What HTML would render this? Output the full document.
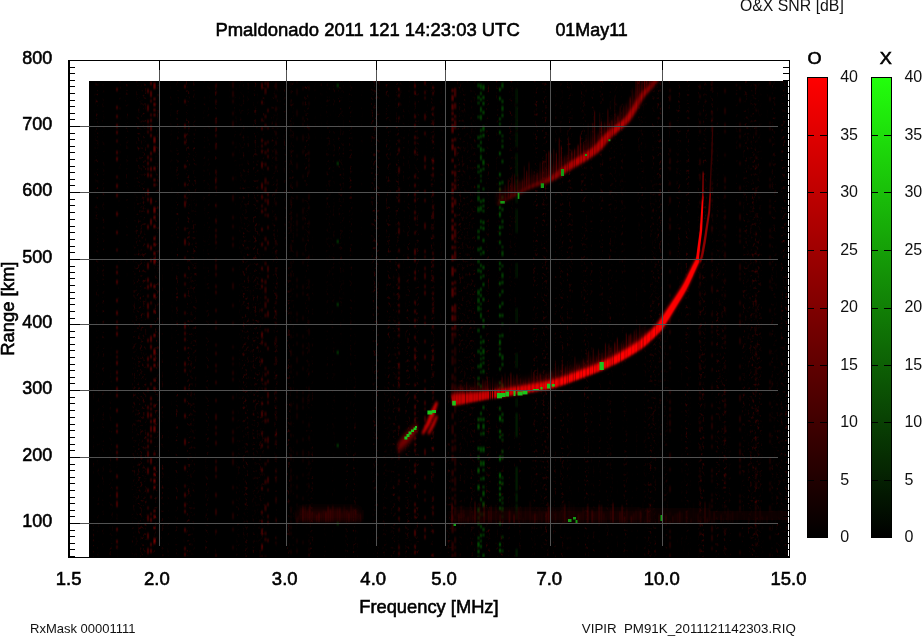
<!DOCTYPE html>
<html lang="en"><head><meta charset="utf-8"><title>Ionogram PM91K 2011121142303</title>
<style>html,body{margin:0;padding:0;background:#fff;overflow:hidden}svg{display:block;font-family:"Liberation Sans",Arial,Helvetica,sans-serif}.b{font-size:19px;fill:#000;stroke:#000;stroke-width:.6px}.t{font-size:16px;fill:#111}.s{font-size:13px;fill:#111}</style></head><body>
<svg width="922" height="636" viewBox="0 0 922 636">
<defs>
<linearGradient id="gO" x1="0" y1="0" x2="0" y2="1"><stop offset="0" stop-color="#ff0000"/><stop offset="1" stop-color="#000000"/></linearGradient>
<linearGradient id="gX" x1="0" y1="0" x2="0" y2="1"><stop offset="0" stop-color="#22ff0c"/><stop offset="1" stop-color="#000000"/></linearGradient>
<filter id="bl0" x="-100%" y="-10%" width="300%" height="120%"><feGaussianBlur stdDeviation="0.5 0.9"/></filter>
<filter id="bl1" x="-20%" y="-20%" width="140%" height="140%"><feGaussianBlur stdDeviation="0.8 1.6"/></filter>
<filter id="bl2" x="-20%" y="-20%" width="140%" height="140%"><feGaussianBlur stdDeviation="1.2 3"/></filter>
<filter id="bl5" x="0" y="0" width="100%" height="100%" filterUnits="userSpaceOnUse"><feGaussianBlur stdDeviation="0.6 0.8"/></filter>
<filter id="bl4" x="-20%" y="-100%" width="140%" height="300%"><feGaussianBlur stdDeviation="3 4"/></filter>
<filter id="bl3" x="-20%" y="-50%" width="140%" height="200%"><feGaussianBlur stdDeviation="2 3"/></filter>
<clipPath id="cp"><rect x="89" y="81" width="699" height="476"/></clipPath>
</defs>
<rect x="0" y="0" width="922" height="636" fill="#fff"/>
<rect x="89" y="81" width="699" height="476" fill="#000"/>
<g clip-path="url(#cp)">
<filter id="nz" x="0" y="0" width="100%" height="100%" color-interpolation-filters="sRGB"><feTurbulence type="fractalNoise" baseFrequency="0.42 0.30" numOctaves="2" seed="5" result="a"/><feColorMatrix in="a" type="matrix" values="0 0 0 0 0.2  0 0 0 0 0  0 0 0 0 0  3.5 0 0 0 -1.9" result="sp"/><feTurbulence type="fractalNoise" baseFrequency="0.21 0.0015" numOctaves="2" seed="11" result="b"/><feColorMatrix in="b" type="matrix" values="0 0 0 0 0  0 0 0 0 0  0 0 0 0 0  0 5 0 0 -2.45" result="col"/><feComposite in="sp" in2="col" operator="in"/><feGaussianBlur stdDeviation="0.5 0.7"/></filter>
<rect x="89" y="81" width="699" height="476" filter="url(#nz)"/>
<g filter="url(#bl5)">
<line x1="117" y1="88" x2="117" y2="557" stroke="#c00000" stroke-width="2.3" stroke-opacity="0.31" stroke-dasharray="3 15 3 6 3 6 4 3 3 6 2 9 3 3 4 15 2 6 4 6 3 15 4 15 3 15 2 15 2 3 3 6 4 15 3 9 4 6 2 3 3 3 4 15 2 3 2 3 4 6 3 3 4 6 4 3 3 12 3 12 3 3 3 12 3 3 3 3 3 15 3 9 2 3 6 3 6 21 3 9 3 3 2 15 4 6"/>
<line x1="148" y1="89" x2="148" y2="557" stroke="#c00000" stroke-width="2.3" stroke-opacity="0.31" stroke-dasharray="4 12 6 9 3 3 2 3 2 12 2 9 3 3 3 3 2 3 4 12 6 3 3 9 3 12 4 15 4 15 6 9 4 3 4 6 2 6 6 3 6 21 3 15 4 3 3 21 3 15 3 3 6 15 3 3 3 3 3 3 6 3 2 6 6 15 3 15 2 6 6 12 6 9 6 21"/>
<line x1="151" y1="82" x2="151" y2="557" stroke="#c00000" stroke-width="2.3" stroke-opacity="0.34" stroke-dasharray="3 6 6 3 2 12 2 3 3 3 6 3 3 15 3 3 3 6 4 3 3 21 6 15 6 21 4 9 3 21 4 15 2 21 2 9 6 3 4 6 3 9 4 12 2 12 3 3 2 3 2 3 4 3 3 3 6 3 2 3 3 15 6 15 2 15 2 15 2 3 4 21 3 3 4 15"/>
<line x1="154.5" y1="83" x2="154.5" y2="557" stroke="#c00000" stroke-width="2.3" stroke-opacity="0.50" stroke-dasharray="6 9 2 3 3 3 2 3 2 21 6 3 6 15 3 9 2 3 2 21 6 3 3 6 3 9 3 3 3 6 3 3 6 21 3 6 4 12 3 21 3 12 6 3 3 3 3 12 2 6 3 15 2 12 4 3 6 21 2 12 3 3 3 3 4 3 3 21 2 3 3 9 2 9 6 21"/>
<line x1="185" y1="85" x2="185" y2="557" stroke="#c00000" stroke-width="2.3" stroke-opacity="0.31" stroke-dasharray="3 12 3 21 4 6 4 3 3 21 3 15 3 9 3 3 6 21 2 9 6 12 2 15 3 6 2 9 3 15 2 9 6 3 3 3 3 6 3 12 4 3 3 15 3 9 3 12 4 21 6 21 4 15 2 6 4 6 4 3 3 15 4 15 3 3 3 9"/>
<line x1="216" y1="84" x2="216" y2="557" stroke="#c00000" stroke-width="2.3" stroke-opacity="0.19" stroke-dasharray="4 3 3 6 3 15 6 3 4 3 3 6 6 21 4 3 6 3 3 15 3 12 4 6 3 3 3 3 3 15 2 3 6 3 3 9 3 3 3 15 3 9 3 3 2 15 2 6 3 9 3 3 2 9 3 15 3 12 6 6 3 3 3 6 4 15 3 3 6 3 3 15 4 12 6 15 3 21 3 15"/>
<line x1="233" y1="82" x2="233" y2="557" stroke="#c00000" stroke-width="2.3" stroke-opacity="0.14" stroke-dasharray="6 3 6 3 3 9 3 6 6 15 2 9 3 21 3 15 6 15 3 6 3 9 3 3 4 21 3 12 6 15 3 15 3 21 2 9 3 3 2 6 4 3 3 15 3 12 3 3 4 9 4 3 6 9 4 3 6 21 3 12 3 9 6 9 3 15 3 9 4 21"/>
<line x1="262" y1="83" x2="262" y2="557" stroke="#c00000" stroke-width="2.3" stroke-opacity="0.31" stroke-dasharray="6 12 3 15 2 6 3 9 3 3 2 3 3 9 6 15 6 6 4 6 2 3 3 15 3 12 3 21 3 9 3 3 3 21 2 21 6 3 3 15 4 15 3 21 3 6 6 15 3 9 3 21 4 15 3 21 3 6 3 6 6 9 6 6 3 15"/>
<line x1="265.5" y1="82" x2="265.5" y2="557" stroke="#c00000" stroke-width="2.3" stroke-opacity="0.25" stroke-dasharray="3 3 6 21 3 6 3 15 3 6 3 9 3 12 6 3 6 6 3 6 3 3 2 21 4 6 3 12 3 15 4 3 6 3 3 3 6 6 3 12 2 12 3 21 3 3 3 6 3 3 3 21 4 3 4 15 4 21 2 15 4 21 6 21 3 3 3 15 3 12"/>
<line x1="268" y1="82" x2="268" y2="557" stroke="#c00000" stroke-width="2.3" stroke-opacity="0.25" stroke-dasharray="6 21 3 15 2 12 2 6 3 3 3 9 3 12 2 9 3 3 6 9 3 9 3 12 4 21 6 3 3 21 3 9 6 12 3 15 3 21 3 6 3 9 6 3 3 15 3 15 6 3 2 12 2 15 6 6 2 12 3 9 3 3 3 15 3 15 3 6"/>
<line x1="276" y1="83" x2="276" y2="557" stroke="#c00000" stroke-width="2.3" stroke-opacity="0.14" stroke-dasharray="6 6 3 9 4 12 3 6 3 6 3 6 4 3 3 6 3 21 3 9 3 12 3 21 4 6 3 15 3 21 2 6 3 6 6 6 3 12 6 3 2 9 6 12 3 12 4 3 3 6 2 3 2 3 3 12 6 3 4 12 4 9 4 3 6 15 6 15 4 15 2 3 2 15 6 9"/>
<line x1="291" y1="83" x2="291" y2="557" stroke="#c00000" stroke-width="2.3" stroke-opacity="0.09" stroke-dasharray="2 15 3 21 2 9 2 15 2 6 3 21 3 12 6 6 3 3 3 3 3 3 3 12 6 12 2 9 4 12 2 21 2 21 3 12 6 9 3 3 2 15 3 12 4 15 3 9 3 12 2 3 6 9 3 3 6 3 3 3 2 15 6 3 2 3 2 3 3 3 3 15 4 3 3 15"/>
<line x1="297" y1="81" x2="297" y2="557" stroke="#c00000" stroke-width="2.3" stroke-opacity="0.09" stroke-dasharray="2 6 6 15 6 21 3 15 2 6 6 12 6 9 3 15 3 3 6 3 2 3 2 15 6 21 4 3 3 6 3 15 4 3 3 12 2 6 3 12 6 9 3 15 3 3 2 6 6 3 6 21 3 9 3 21 3 6 4 6 3 6 2 12 6 15 4 6 4 15"/>
<line x1="303" y1="87" x2="303" y2="557" stroke="#c00000" stroke-width="2.3" stroke-opacity="0.09" stroke-dasharray="3 12 3 12 3 3 3 9 6 9 4 21 3 21 3 6 6 3 3 6 3 9 3 12 2 6 3 21 4 3 3 21 4 15 3 6 4 3 4 12 3 21 3 3 6 3 3 12 2 15 3 9 6 3 3 12 2 21 3 9 4 3 4 21 3 21 2 3"/>
<line x1="309" y1="86" x2="309" y2="557" stroke="#c00000" stroke-width="2.3" stroke-opacity="0.09" stroke-dasharray="4 12 3 21 4 6 3 12 4 3 3 3 3 3 3 21 6 6 3 12 4 6 3 21 4 21 3 3 2 9 3 21 2 6 6 9 2 3 3 12 2 6 3 12 4 3 2 3 3 21 4 9 4 12 3 6 3 9 2 9 4 21 4 3 3 21 2 6 3 3 3 3 2 3 2 12"/>
<line x1="337.7" y1="84" x2="337.7" y2="557" stroke="#00a000" stroke-width="2.3" stroke-opacity="0.31" stroke-dasharray="3 75 3 75 3 60 3 45 3 90 3 75 3 45"/>
<line x1="399" y1="88" x2="399" y2="557" stroke="#c00000" stroke-width="2.3" stroke-opacity="0.25" stroke-dasharray="3 3 3 6 2 12 2 21 2 6 4 15 6 15 3 3 2 3 3 21 2 3 6 15 3 12 4 9 6 3 3 6 3 6 3 3 3 9 3 3 3 3 3 15 2 9 6 3 2 3 3 3 4 21 3 15 3 21 3 3 3 21 2 15 2 9 3 6 3 9 2 15 3 3 3 3 6 3 3 15"/>
<line x1="415" y1="84" x2="415" y2="557" stroke="#c00000" stroke-width="2.3" stroke-opacity="0.31" stroke-dasharray="4 3 3 21 3 6 3 9 3 3 2 6 4 21 3 6 3 6 3 3 3 9 3 3 3 12 2 15 6 3 4 9 3 3 3 21 3 6 3 6 3 3 2 9 3 9 3 3 6 6 3 15 2 9 4 6 4 3 3 3 4 6 3 6 3 3 3 3 3 12 3 3 3 12 3 15 3 3 4 3 2 12 6 9 3 3 3 3 4 15"/>
<line x1="425" y1="81" x2="425" y2="557" stroke="#c00000" stroke-width="2.3" stroke-opacity="0.25" stroke-dasharray="4 6 3 3 2 15 6 12 3 21 6 3 4 21 3 6 3 21 6 21 3 3 2 9 3 3 6 6 3 3 4 21 3 3 3 15 3 12 4 21 2 6 4 9 4 3 2 6 6 3 3 21 6 21 3 12 2 6 2 15 3 9 4 3 4 21 4 3"/>
<line x1="433" y1="86" x2="433" y2="557" stroke="#c00000" stroke-width="2.3" stroke-opacity="0.25" stroke-dasharray="3 3 3 12 3 3 2 6 3 12 2 3 2 15 6 3 3 3 4 15 4 9 4 3 6 9 2 6 2 15 3 3 3 3 3 9 4 12 3 3 2 3 3 3 4 12 3 21 3 3 6 12 3 15 3 3 2 15 3 15 3 12 4 12 2 9 2 21 3 6 3 3 3 15 3 21 4 21"/>
<line x1="452.6" y1="89" x2="452.6" y2="335" stroke="#c00000" stroke-width="2.3" stroke-opacity="0.46" stroke-dasharray="3 3 6 3 6 2 3 3 3 3 9 6 3 2 6 9 3 9 3 9 3 2 6 3 3 2 6 2 3 6 3 3 6 3 6 6 3 6 6 6 9 6 3 3 9 9 6 3 6 6 3 3 3 9 6 6 9 6 3 3 6 3 6 9 6 3 3 6 3 6 3 6 3 6 6 3 9 9 9 3 9 6 6 3 9 9 6 3 6 3 3 2 9 3 9 9"/>
<line x1="452.6" y1="335" x2="452.6" y2="557" stroke="#c00000" stroke-width="2.3" stroke-opacity="0.22" stroke-dasharray="9 6 3 3 9 9 6 3 6 6 3 3 3 9 6 6 9 6 3 3 6 3 6 9 6 3 3 6 3 6 3 6 3 6 6 3 9 9 9 3 9 6 6 3 9 9 6 3 6 3 3 2 9 3 9 9"/>
<line x1="455.2" y1="88" x2="455.2" y2="335" stroke="#c00000" stroke-width="2.3" stroke-opacity="0.34" stroke-dasharray="9 6 6 6 3 2 9 9 3 6 9 9 3 3 6 2 3 2 6 9 6 9 3 6 3 3 9 2 3 3 3 2 9 9 3 9 3 3 3 2 3 9 9 2 6 3 6 3 6 2 6 3 9 2 9 9 3 9 3 2 3 3 6 6 9 2 3 6 9 2 3 3 3 2 6 2 9 3 3 6 3 6 6 3 3 3 6 3 3 3 3 9 3 3 3 6 3 3 3 3 6 9"/>
<line x1="455.2" y1="335" x2="455.2" y2="557" stroke="#c00000" stroke-width="2.3" stroke-opacity="0.17" stroke-dasharray="3 9 9 2 6 3 6 3 6 2 6 3 9 2 9 9 3 9 3 2 3 3 6 6 9 2 3 6 9 2 3 3 3 2 6 2 9 3 3 6 3 6 6 3 3 3 6 3 3 3 3 9 3 3 3 6 3 3 3 3 6 9"/>
<line x1="478.5" y1="84" x2="478.5" y2="557" stroke="#00a000" stroke-width="2.3" stroke-opacity="0.46" stroke-dasharray="3 9 3 3 2 12 2 18 3 6 2 18 3 3 2 12 3 3 2 3 5 6 5 18 3 3 3 9 3 9 3 6 3 18 5 3 5 3 5 18 3 18 3 12 3 9 3 3 2 12 3 18 3 3 5 18 3 6 3 9 5 12 5 18 5 3 3 3 3 12 2 3 5 3 3 3 5 3"/>
<line x1="481" y1="84" x2="481" y2="557" stroke="#00a000" stroke-width="2.3" stroke-opacity="0.37" stroke-dasharray="5 3 3 3 3 6 5 3 5 9 3 3 3 3 3 3 5 3 5 9 3 3 2 3 2 18 3 3 5 9 3 3 3 18 3 3 2 9 3 3 3 3 3 9 3 3 3 6 2 3 2 3 5 18 2 3 3 3 2 3 3 3 2 3 5 3 2 12 3 3 3 18 3 3 3 12 2 12 5 9 5 12 2 18 3 12 3 9 3 6 3 3 2 3 3 12 3 12"/>
<line x1="483.5" y1="85" x2="483.5" y2="557" stroke="#00a000" stroke-width="2.3" stroke-opacity="0.43" stroke-dasharray="5 6 3 3 3 6 3 12 5 3 3 12 2 9 5 3 2 18 2 9 3 3 2 3 2 9 3 3 3 9 3 9 3 12 3 6 2 6 3 12 3 18 3 3 3 12 3 6 5 3 2 3 2 6 3 18 3 12 3 9 3 3 5 3 3 12 5 9 5 3 2 6 3 6 2 3 5 6 5 6 3 12 3 3 2 18 3 9"/>
<line x1="500" y1="88" x2="500" y2="557" stroke="#00a000" stroke-width="2.3" stroke-opacity="0.50" stroke-dasharray="3 6 3 18 2 3 2 6 3 18 3 18 3 6 3 3 3 9 3 3 3 3 5 9 3 3 3 6 3 18 3 3 2 12 3 9 2 9 3 6 3 18 2 3 5 3 2 3 3 12 2 12 2 3 2 18 3 6 5 9 3 3 2 18 5 12 5 3 3 3 3 3 3 3 2 6 3 12 3 18 3 3 3 18"/>
<line x1="502.5" y1="83" x2="502.5" y2="557" stroke="#00a000" stroke-width="2.3" stroke-opacity="0.37" stroke-dasharray="5 12 3 3 5 3 3 18 2 3 2 3 3 12 3 18 3 12 3 9 3 9 3 3 2 18 2 3 5 9 2 6 5 3 3 6 3 9 3 9 3 6 2 9 3 18 5 3 3 18 5 3 3 18 3 3 3 12 2 3 2 9 3 3 3 18 2 3 3 12 2 3 2 3 5 3 3 18 2 12 2 6 2 6"/>
<line x1="516.6" y1="89" x2="516.6" y2="557" stroke="#006000" stroke-width="2.3" stroke-opacity="0.28" stroke-dasharray="15 2 24 2 15 6 24 2 24 6 24 30 15 30 15 30 15 30 9 6 24 30 24 2 9 2 15 30 15 2 24 6"/>
<line x1="670" y1="89" x2="670" y2="557" stroke="#c00000" stroke-width="2.3" stroke-opacity="0.14" stroke-dasharray="3 3 6 21 6 21 3 6 6 3 3 12 3 12 6 15 3 3 6 21 4 15 3 12 3 6 3 21 6 6 4 12 3 12 3 3 2 21 4 6 4 3 4 3 3 3 6 3 3 21 6 9 3 15 6 21 2 6 3 6 3 3 3 3 6 6 3 3 3 6"/>
<line x1="700" y1="85" x2="700" y2="557" stroke="#c00000" stroke-width="2.3" stroke-opacity="0.14" stroke-dasharray="4 6 3 15 2 6 3 6 3 15 2 9 6 9 6 21 3 21 4 3 2 15 3 6 3 12 6 3 4 6 4 6 3 6 2 12 3 3 4 6 2 12 3 6 6 12 3 6 3 3 3 21 3 3 4 15 3 21 2 3 3 9 3 12 3 3 6 9 3 6 2 15 3 9 3 15"/>
<line x1="712" y1="81" x2="712" y2="557" stroke="#c00000" stroke-width="2.3" stroke-opacity="0.15" stroke-dasharray="3 3 3 21 4 3 4 3 6 12 3 3 6 3 3 21 2 3 3 9 3 12 3 9 6 21 2 3 4 12 3 9 6 21 3 9 3 3 2 9 3 9 3 12 2 15 3 15 3 9 4 3 6 6 4 6 3 21 3 3 2 3 2 12 2 3 3 3 3 12 3 3 6 3 6 6 3 21"/>
<line x1="725" y1="89" x2="725" y2="557" stroke="#c00000" stroke-width="2.3" stroke-opacity="0.14" stroke-dasharray="4 15 6 9 4 3 3 21 2 21 6 3 3 6 3 12 2 3 4 6 4 6 2 6 3 6 6 21 3 12 3 12 3 15 2 6 3 3 3 21 3 21 4 6 3 3 3 3 3 12 6 6 3 15 3 15 4 3 3 21 3 3 3 15 4 15 2 15 3 3"/>
<line x1="740" y1="87" x2="740" y2="557" stroke="#c00000" stroke-width="2.3" stroke-opacity="0.15" stroke-dasharray="2 9 4 21 3 3 3 3 3 6 3 15 3 21 4 12 3 9 6 9 3 3 2 3 3 21 6 3 2 3 2 21 4 9 3 3 6 12 6 21 3 9 3 15 6 15 6 6 3 12 3 3 6 3 4 3 3 3 3 21 2 3 3 3 6 21 3 15 3 15"/>
<line x1="756" y1="85" x2="756" y2="557" stroke="#c00000" stroke-width="2.3" stroke-opacity="0.12" stroke-dasharray="3 21 2 15 3 3 3 21 3 6 3 21 4 21 3 15 4 15 3 6 3 6 4 21 3 3 6 3 3 3 3 9 3 15 3 3 6 12 6 3 3 9 3 15 3 9 3 15 3 3 2 21 3 3 6 3 6 12 4 3 3 9 3 3 3 3 3 9 3 21"/>
<line x1="770" y1="81" x2="770" y2="557" stroke="#c00000" stroke-width="2.3" stroke-opacity="0.12" stroke-dasharray="4 12 4 21 2 3 3 9 3 21 3 12 3 3 4 12 2 3 3 3 3 15 3 3 3 6 3 9 3 3 3 15 3 3 2 21 3 21 2 15 4 9 2 15 4 3 3 12 3 9 2 3 2 12 4 3 3 15 6 3 3 12 3 3 3 15 6 15 3 6 3 15 2 6"/>
</g>
<polygon points="452.8,402.6 453.3,402.5 453.8,402.6 454.6,402.6 455.6,402.5 457.0,402.4 458.9,402.1 461.4,401.6 464.4,401.0 467.8,400.3 471.4,399.6 475.0,398.9 478.4,398.2 481.7,397.7 484.9,397.1 488.2,396.6 491.4,396.0 494.6,395.5 497.9,395.0 501.2,394.5 504.5,393.9 507.8,393.4 511.1,392.9 514.4,392.4 517.7,391.9 520.9,391.3 524.1,390.8 527.3,390.3 530.6,389.8 533.8,389.2 537.1,388.6 540.3,388.0 543.5,387.4 546.8,386.8 550.1,386.2 553.7,385.3 557.4,384.4 561.3,383.2 565.3,381.8 569.4,380.4 573.5,378.9 577.4,377.4 581.1,376.0 584.6,374.7 587.9,373.5 591.2,372.3 594.4,371.0 597.7,369.7 601.0,368.3 604.3,366.9 607.6,365.4 610.9,363.9 614.2,362.4 617.5,360.8 620.9,359.0 624.4,357.1 628.0,355.1 631.6,353.0 635.0,350.9 638.2,348.9 641.0,347.1 643.3,345.5 645.2,344.1 646.8,342.8 648.2,341.5 649.5,340.3 651.0,339.0 652.7,337.4 644.7,328.5 643.0,330.0 641.5,331.3 640.2,332.5 639.0,333.4 637.7,334.4 636.2,335.5 634.2,336.9 631.6,338.5 628.6,340.4 625.3,342.4 621.8,344.4 618.4,346.4 615.1,348.2 612.0,349.8 608.8,351.4 605.7,353.0 602.6,354.4 599.4,355.9 596.2,357.3 593.1,358.6 590.0,359.9 586.9,361.1 583.7,362.3 580.4,363.5 576.9,364.8 573.2,366.2 569.3,367.6 565.3,369.1 561.4,370.5 557.6,371.7 554.0,372.8 550.7,373.7 547.6,374.5 544.4,375.2 541.3,375.8 538.1,376.4 534.9,377.0 531.7,377.6 528.5,378.2 525.4,378.8 522.2,379.4 519.0,380.0 515.7,380.5 512.5,381.1 509.2,381.7 505.9,382.2 502.7,382.8 499.4,383.3 496.1,383.8 492.9,384.3 489.6,384.8 486.4,385.3 483.2,385.8 480.0,386.2 476.8,386.6 473.4,386.8 469.8,387.1 466.1,387.2 462.7,387.4 459.6,387.5 457.1,387.7 455.3,387.9 453.9,388.1 453.0,388.2 452.3,388.4 451.7,388.5 451.2,388.6" fill="#700000" opacity=".4" filter="url(#bl2)"/>
<polygon points="498.3,201.9 498.7,201.8 499.1,201.7 499.9,201.5 501.1,201.0 502.7,200.3 505.1,199.2 508.6,197.5 512.9,195.2 517.8,192.7 522.8,190.2 527.6,187.8 531.8,185.9 535.4,184.5 538.6,183.5 541.9,182.6 545.2,181.6 548.7,180.4 552.4,178.8 556.1,176.8 559.9,174.6 563.6,172.2 567.1,169.9 570.4,167.8 573.3,166.0 575.8,164.6 578.1,163.3 580.2,162.1 582.3,161.0 584.6,159.7 586.8,158.3 589.2,156.8 591.5,155.3 594.0,153.7 596.4,152.0 598.8,150.1 601.2,148.1 603.5,145.9 605.5,143.5 607.3,141.2 609.0,139.1 610.5,137.2 611.8,135.7 613.1,134.3 614.4,133.1 615.7,132.0 617.0,130.9 618.5,129.6 620.0,128.3 621.5,127.0 623.2,125.6 624.9,124.2 626.7,122.6 628.5,121.0 630.2,119.3 631.7,117.5 633.0,115.8 634.1,114.1 635.2,112.4 636.2,110.8 637.2,109.1 638.4,107.3 639.5,105.2 640.6,103.2 641.7,101.3 642.7,99.5 643.7,97.9 644.5,96.6 645.2,95.4 645.8,94.4 646.4,93.6 647.0,92.8 647.6,91.9 648.4,91.0 649.4,90.0 650.5,88.8 651.6,87.7 652.8,86.5 653.8,85.4 654.7,84.4 655.5,83.4 656.3,82.5 657.0,81.6 657.7,80.6 658.4,79.7 659.1,78.6 659.8,77.6 660.5,76.5 661.1,75.6 661.5,74.9 661.8,74.4 654.2,69.6 653.8,70.2 653.4,71.0 652.9,71.8 652.3,72.7 651.7,73.6 651.2,74.3 650.6,75.0 650.0,75.7 649.3,76.4 648.6,77.2 647.8,78.0 647.0,78.8 646.0,79.7 644.9,80.7 643.7,81.8 642.4,82.9 641.2,84.2 640.0,85.5 639.0,86.7 638.1,87.9 637.4,89.0 636.7,90.2 636.0,91.3 635.1,92.7 634.1,94.3 633.0,96.1 631.8,98.1 630.7,100.0 629.5,101.8 628.4,103.5 627.3,105.1 626.3,106.6 625.3,108.0 624.3,109.3 623.3,110.5 622.2,111.7 620.9,112.9 619.5,114.1 617.9,115.4 616.1,116.8 614.3,118.1 612.6,119.5 611.1,120.7 609.7,121.8 608.2,122.9 606.6,124.2 605.0,125.6 603.2,127.3 601.3,129.3 599.5,131.4 597.8,133.5 596.1,135.5 594.4,137.3 592.8,138.9 591.0,140.3 589.0,141.8 586.9,143.3 584.7,144.8 582.4,146.3 580.2,147.7 578.1,149.0 576.1,150.2 574.1,151.4 571.9,152.7 569.5,154.2 566.7,156.0 563.7,158.1 560.5,160.6 557.2,163.1 553.9,165.6 550.7,167.9 547.6,169.8 544.8,171.2 542.0,172.5 538.9,173.6 535.7,174.7 532.1,176.1 528.2,177.9 523.8,180.1 518.9,182.8 513.9,185.6 509.1,188.2 504.9,190.6 501.7,192.4 499.5,193.6 498.0,194.4 497.2,194.8 496.7,195.0 496.2,195.2 495.7,195.5" fill="#500000" opacity=".5" filter="url(#bl3)"/>
<g stroke="#a00000" stroke-width="1.3" filter="url(#bl0)"><line x1="452.0" y1="399.6" x2="452.0" y2="386.9" stroke-opacity="0.15"/><line x1="455.1" y1="399.3" x2="455.1" y2="389.5" stroke-opacity="0.26"/><line x1="457.5" y1="399.0" x2="457.5" y2="389.4" stroke-opacity="0.25"/><line x1="459.1" y1="398.8" x2="459.1" y2="384.4" stroke-opacity="0.12"/><line x1="460.9" y1="398.5" x2="460.9" y2="384.5" stroke-opacity="0.35"/><line x1="462.7" y1="398.3" x2="462.7" y2="387.0" stroke-opacity="0.29"/><line x1="466.5" y1="397.8" x2="466.5" y2="382.2" stroke-opacity="0.22"/><line x1="470.5" y1="397.3" x2="470.5" y2="388.9" stroke-opacity="0.36"/><line x1="472.7" y1="397.1" x2="472.7" y2="387.5" stroke-opacity="0.14"/><line x1="475.0" y1="396.8" x2="475.0" y2="378.6" stroke-opacity="0.15"/><line x1="477.9" y1="396.4" x2="477.9" y2="380.7" stroke-opacity="0.21"/><line x1="480.8" y1="395.9" x2="480.8" y2="387.8" stroke-opacity="0.12"/><line x1="482.8" y1="395.6" x2="482.8" y2="379.5" stroke-opacity="0.23"/><line x1="485.1" y1="395.3" x2="485.1" y2="380.5" stroke-opacity="0.24"/><line x1="487.3" y1="394.9" x2="487.3" y2="377.4" stroke-opacity="0.31"/><line x1="489.5" y1="394.6" x2="489.5" y2="380.0" stroke-opacity="0.26"/><line x1="493.1" y1="394.0" x2="493.1" y2="377.4" stroke-opacity="0.19"/><line x1="497.1" y1="393.4" x2="497.1" y2="384.7" stroke-opacity="0.23"/><line x1="500.5" y1="392.8" x2="500.5" y2="383.7" stroke-opacity="0.25"/><line x1="502.1" y1="392.6" x2="502.1" y2="376.8" stroke-opacity="0.33"/><line x1="505.0" y1="392.1" x2="505.0" y2="373.6" stroke-opacity="0.19"/><line x1="508.3" y1="391.6" x2="508.3" y2="376.7" stroke-opacity="0.27"/><line x1="510.9" y1="391.2" x2="510.9" y2="373.0" stroke-opacity="0.38"/><line x1="513.6" y1="390.7" x2="513.6" y2="374.9" stroke-opacity="0.12"/><line x1="516.8" y1="390.2" x2="516.8" y2="374.5" stroke-opacity="0.40"/><line x1="520.4" y1="389.6" x2="520.4" y2="378.6" stroke-opacity="0.22"/><line x1="523.6" y1="389.0" x2="523.6" y2="381.4" stroke-opacity="0.24"/><line x1="525.5" y1="388.7" x2="525.5" y2="379.9" stroke-opacity="0.12"/><line x1="528.9" y1="388.1" x2="528.9" y2="379.1" stroke-opacity="0.17"/><line x1="531.4" y1="387.7" x2="531.4" y2="369.0" stroke-opacity="0.12"/><line x1="534.0" y1="387.2" x2="534.0" y2="372.7" stroke-opacity="0.37"/><line x1="537.6" y1="386.5" x2="537.6" y2="367.9" stroke-opacity="0.18"/><line x1="540.1" y1="386.0" x2="540.1" y2="373.9" stroke-opacity="0.37"/><line x1="544.0" y1="385.3" x2="544.0" y2="375.9" stroke-opacity="0.15"/><line x1="546.1" y1="384.9" x2="546.1" y2="374.4" stroke-opacity="0.25"/><line x1="549.0" y1="384.3" x2="549.0" y2="373.4" stroke-opacity="0.10"/><line x1="551.6" y1="383.7" x2="551.6" y2="371.4" stroke-opacity="0.27"/><line x1="555.5" y1="382.7" x2="555.5" y2="366.2" stroke-opacity="0.25"/><line x1="558.5" y1="381.7" x2="558.5" y2="365.4" stroke-opacity="0.12"/><line x1="562.3" y1="380.5" x2="562.3" y2="362.9" stroke-opacity="0.36"/><line x1="565.8" y1="379.3" x2="565.8" y2="366.7" stroke-opacity="0.22"/><line x1="567.5" y1="378.7" x2="567.5" y2="362.9" stroke-opacity="0.12"/><line x1="569.2" y1="378.0" x2="569.2" y2="367.8" stroke-opacity="0.15"/><line x1="571.5" y1="377.2" x2="571.5" y2="369.0" stroke-opacity="0.10"/><line x1="573.4" y1="376.5" x2="573.4" y2="367.7" stroke-opacity="0.21"/><line x1="575.0" y1="375.9" x2="575.0" y2="357.0" stroke-opacity="0.28"/><line x1="576.8" y1="375.2" x2="576.8" y2="364.4" stroke-opacity="0.20"/><line x1="579.3" y1="374.3" x2="579.3" y2="365.2" stroke-opacity="0.35"/><line x1="583.2" y1="372.8" x2="583.2" y2="359.3" stroke-opacity="0.25"/><line x1="585.0" y1="372.2" x2="585.0" y2="363.4" stroke-opacity="0.20"/><line x1="587.1" y1="371.4" x2="587.1" y2="353.1" stroke-opacity="0.15"/><line x1="588.7" y1="370.8" x2="588.7" y2="350.9" stroke-opacity="0.26"/><line x1="590.5" y1="370.1" x2="590.5" y2="355.5" stroke-opacity="0.11"/><line x1="593.4" y1="369.0" x2="593.4" y2="348.8" stroke-opacity="0.36"/><line x1="596.6" y1="367.6" x2="596.6" y2="356.8" stroke-opacity="0.21"/><line x1="598.5" y1="366.8" x2="598.5" y2="349.3" stroke-opacity="0.26"/><line x1="602.0" y1="365.3" x2="602.0" y2="353.5" stroke-opacity="0.17"/><line x1="605.5" y1="363.7" x2="605.5" y2="343.4" stroke-opacity="0.36"/><line x1="609.0" y1="362.1" x2="609.0" y2="343.9" stroke-opacity="0.32"/><line x1="611.1" y1="361.1" x2="611.1" y2="346.8" stroke-opacity="0.21"/><line x1="612.7" y1="360.3" x2="612.7" y2="352.4" stroke-opacity="0.18"/><line x1="614.8" y1="359.3" x2="614.8" y2="342.6" stroke-opacity="0.39"/><line x1="617.4" y1="357.9" x2="617.4" y2="338.1" stroke-opacity="0.40"/><line x1="621.3" y1="355.8" x2="621.3" y2="343.4" stroke-opacity="0.17"/><line x1="623.4" y1="354.6" x2="623.4" y2="344.4" stroke-opacity="0.16"/><line x1="626.4" y1="352.9" x2="626.4" y2="333.5" stroke-opacity="0.35"/><line x1="629.1" y1="351.3" x2="629.1" y2="335.1" stroke-opacity="0.34"/><line x1="630.8" y1="350.2" x2="630.8" y2="334.0" stroke-opacity="0.37"/><line x1="634.3" y1="348.1" x2="634.3" y2="330.7" stroke-opacity="0.24"/><line x1="636.2" y1="346.9" x2="636.2" y2="329.0" stroke-opacity="0.20"/><line x1="639.7" y1="344.5" x2="639.7" y2="324.3" stroke-opacity="0.22"/><line x1="500.0" y1="202.5" x2="500.0" y2="187.5" stroke-opacity="0.33"/><line x1="501.8" y1="201.6" x2="501.8" y2="196.2" stroke-opacity="0.15"/><line x1="505.1" y1="199.9" x2="505.1" y2="184.9" stroke-opacity="0.15"/><line x1="508.3" y1="198.2" x2="508.3" y2="179.7" stroke-opacity="0.31"/><line x1="510.5" y1="197.0" x2="510.5" y2="184.2" stroke-opacity="0.14"/><line x1="512.0" y1="196.2" x2="512.0" y2="176.4" stroke-opacity="0.31"/><line x1="514.6" y1="194.8" x2="514.6" y2="174.7" stroke-opacity="0.24"/><line x1="517.8" y1="193.1" x2="517.8" y2="173.7" stroke-opacity="0.17"/><line x1="519.8" y1="192.0" x2="519.8" y2="181.5" stroke-opacity="0.18"/><line x1="522.5" y1="190.6" x2="522.5" y2="180.3" stroke-opacity="0.23"/><line x1="524.3" y1="189.7" x2="524.3" y2="166.6" stroke-opacity="0.21"/><line x1="526.7" y1="188.5" x2="526.7" y2="171.0" stroke-opacity="0.39"/><line x1="529.0" y1="187.4" x2="529.0" y2="162.4" stroke-opacity="0.26"/><line x1="531.6" y1="186.2" x2="531.6" y2="168.7" stroke-opacity="0.11"/><line x1="534.0" y1="185.2" x2="534.0" y2="174.7" stroke-opacity="0.10"/><line x1="537.1" y1="184.1" x2="537.1" y2="173.4" stroke-opacity="0.25"/><line x1="540.0" y1="183.2" x2="540.0" y2="162.8" stroke-opacity="0.20"/><line x1="542.6" y1="182.4" x2="542.6" y2="161.3" stroke-opacity="0.35"/><line x1="544.3" y1="181.8" x2="544.3" y2="160.2" stroke-opacity="0.18"/><line x1="546.3" y1="181.0" x2="546.3" y2="153.4" stroke-opacity="0.26"/><line x1="548.9" y1="179.8" x2="548.9" y2="151.6" stroke-opacity="0.39"/><line x1="551.3" y1="178.5" x2="551.3" y2="153.6" stroke-opacity="0.26"/><line x1="553.9" y1="177.1" x2="553.9" y2="149.2" stroke-opacity="0.24"/><line x1="556.4" y1="175.4" x2="556.4" y2="152.9" stroke-opacity="0.40"/><line x1="559.3" y1="173.4" x2="559.3" y2="138.3" stroke-opacity="0.40"/><line x1="561.3" y1="172.0" x2="561.3" y2="146.1" stroke-opacity="0.40"/><line x1="564.5" y1="169.8" x2="564.5" y2="156.4" stroke-opacity="0.14"/><line x1="566.9" y1="168.1" x2="566.9" y2="156.5" stroke-opacity="0.18"/><line x1="568.5" y1="167.0" x2="568.5" y2="137.4" stroke-opacity="0.35"/><line x1="571.8" y1="164.9" x2="571.8" y2="150.7" stroke-opacity="0.33"/><line x1="574.7" y1="163.2" x2="574.7" y2="149.3" stroke-opacity="0.38"/><line x1="578.1" y1="161.2" x2="578.1" y2="144.9" stroke-opacity="0.40"/><line x1="580.4" y1="159.9" x2="580.4" y2="135.6" stroke-opacity="0.42"/><line x1="583.6" y1="158.0" x2="583.6" y2="143.4" stroke-opacity="0.24"/><line x1="586.1" y1="156.3" x2="586.1" y2="136.4" stroke-opacity="0.16"/><line x1="588.2" y1="155.0" x2="588.2" y2="123.5" stroke-opacity="0.11"/><line x1="590.8" y1="153.2" x2="590.8" y2="130.2" stroke-opacity="0.11"/><line x1="593.0" y1="151.7" x2="593.0" y2="123.2" stroke-opacity="0.26"/><line x1="594.6" y1="150.5" x2="594.6" y2="111.1" stroke-opacity="0.35"/><line x1="598.1" y1="147.4" x2="598.1" y2="134.6" stroke-opacity="0.18"/><line x1="599.7" y1="145.8" x2="599.7" y2="112.7" stroke-opacity="0.19"/><line x1="601.4" y1="143.8" x2="601.4" y2="121.4" stroke-opacity="0.39"/><line x1="604.5" y1="139.9" x2="604.5" y2="122.5" stroke-opacity="0.15"/><line x1="607.9" y1="136.1" x2="607.9" y2="109.5" stroke-opacity="0.32"/><line x1="609.6" y1="134.5" x2="609.6" y2="123.4" stroke-opacity="0.32"/><line x1="611.9" y1="132.5" x2="611.9" y2="120.9" stroke-opacity="0.40"/><line x1="614.7" y1="130.2" x2="614.7" y2="96.9" stroke-opacity="0.13"/><line x1="617.9" y1="127.6" x2="617.9" y2="116.4" stroke-opacity="0.38"/><line x1="620.3" y1="125.7" x2="620.3" y2="106.3" stroke-opacity="0.28"/><line x1="623.7" y1="122.9" x2="623.7" y2="105.8" stroke-opacity="0.14"/><line x1="626.2" y1="120.5" x2="626.2" y2="104.3" stroke-opacity="0.14"/><line x1="628.0" y1="118.3" x2="628.0" y2="107.9" stroke-opacity="0.16"/><line x1="630.2" y1="115.4" x2="630.2" y2="97.4" stroke-opacity="0.34"/><line x1="632.2" y1="112.2" x2="632.2" y2="88.4" stroke-opacity="0.16"/><line x1="634.4" y1="108.7" x2="634.4" y2="99.4" stroke-opacity="0.18"/><line x1="636.0" y1="106.1" x2="636.0" y2="75.5" stroke-opacity="0.28"/><line x1="637.8" y1="102.9" x2="637.8" y2="80.1" stroke-opacity="0.40"/><line x1="639.6" y1="100.0" x2="639.6" y2="67.0" stroke-opacity="0.24"/><line x1="642.0" y1="96.1" x2="642.0" y2="62.5" stroke-opacity="0.23"/><line x1="644.6" y1="92.9" x2="644.6" y2="63.7" stroke-opacity="0.41"/><line x1="646.7" y1="90.6" x2="646.7" y2="57.3" stroke-opacity="0.33"/><line x1="649.5" y1="88.0" x2="649.5" y2="67.6" stroke-opacity="0.21"/><line x1="651.1" y1="86.3" x2="651.1" y2="74.2" stroke-opacity="0.12"/><line x1="654.1" y1="82.9" x2="654.1" y2="67.2" stroke-opacity="0.15"/><line x1="655.8" y1="80.6" x2="655.8" y2="47.4" stroke-opacity="0.38"/></g>
<linearGradient id="gh" gradientUnits="userSpaceOnUse" x1="497" y1="0" x2="660" y2="0"><stop offset="0" stop-color="#480000"/><stop offset=".28" stop-color="#720000"/><stop offset=".42" stop-color="#a80000"/><stop offset=".5" stop-color="#b80000"/><stop offset=".75" stop-color="#b80000"/><stop offset=".9" stop-color="#980000"/><stop offset="1" stop-color="#600000"/></linearGradient>
<polygon points="497.4,204.6 497.8,204.5 498.3,204.4 499.0,204.1 500.0,203.8 501.6,203.1 504.0,202.0 507.4,200.3 511.7,198.0 516.6,195.5 521.7,193.0 526.5,190.6 530.8,188.6 534.4,187.2 537.8,186.1 541.1,185.2 544.4,184.2 547.7,183.1 551.2,181.6 554.8,179.7 558.5,177.5 562.2,175.2 565.7,172.9 569.0,170.8 571.9,168.9 574.5,167.4 576.8,166.1 579.0,165.0 581.1,163.8 583.3,162.5 585.5,161.2 587.8,159.7 590.2,158.2 592.6,156.6 594.9,155.0 597.3,153.2 599.5,151.3 601.6,149.2 603.6,146.9 605.4,144.7 607.0,142.5 608.6,140.6 610.0,138.9 611.4,137.5 612.8,136.2 614.1,135.1 615.4,133.9 616.9,132.7 618.4,131.4 619.9,130.0 621.6,128.7 623.4,127.2 625.1,125.7 626.8,124.2 628.4,122.6 629.8,120.9 631.0,119.3 632.1,117.7 633.1,116.1 634.1,114.5 635.1,112.8 636.2,110.9 637.4,109.0 638.5,107.0 639.6,105.0 640.6,103.2 641.5,101.6 642.4,100.2 643.1,99.1 643.7,98.1 644.3,97.2 645.0,96.3 645.7,95.3 646.6,94.3 647.6,93.2 648.8,92.0 649.9,90.9 651.0,89.7 652.0,88.7 652.9,87.7 653.7,86.7 654.4,85.8 655.1,85.0 655.8,84.1 656.4,83.2 657.1,82.2 657.7,81.2 658.4,80.2 658.9,79.3 659.4,78.6 659.7,78.0 656.3,76.0 656.0,76.5 655.5,77.3 655.0,78.1 654.4,79.1 653.8,80.0 653.2,80.8 652.6,81.6 651.9,82.3 651.2,83.1 650.5,83.8 649.7,84.7 648.8,85.5 647.8,86.5 646.7,87.5 645.4,88.6 644.2,89.7 643.0,90.9 641.9,92.1 641.0,93.2 640.2,94.3 639.5,95.4 638.8,96.5 638.1,97.6 637.3,99.0 636.3,100.6 635.1,102.4 634.0,104.3 632.8,106.2 631.6,108.1 630.5,109.8 629.4,111.4 628.3,113.0 627.3,114.4 626.3,115.8 625.2,117.1 624.0,118.4 622.7,119.7 621.1,121.0 619.4,122.4 617.7,123.7 615.9,125.1 614.2,126.4 612.7,127.6 611.2,128.7 609.8,129.9 608.3,131.1 606.7,132.5 605.0,134.1 603.2,136.0 601.4,138.0 599.7,140.1 598.0,142.1 596.2,144.0 594.5,145.7 592.6,147.3 590.5,148.8 588.3,150.4 586.0,151.9 583.7,153.4 581.5,154.8 579.4,156.2 577.4,157.4 575.3,158.6 573.2,159.8 570.8,161.3 568.1,163.1 565.1,165.2 561.9,167.6 558.6,170.2 555.3,172.7 552.0,175.0 548.8,177.0 545.8,178.5 542.8,179.8 539.7,180.9 536.5,182.1 533.0,183.5 529.2,185.2 524.9,187.4 520.1,190.0 515.1,192.8 510.3,195.5 506.1,197.8 502.8,199.6 500.6,200.8 499.0,201.6 498.1,202.1 497.5,202.4 497.1,202.5 496.6,202.8" fill="url(#gh)" filter="url(#bl1)"/>
<linearGradient id="gm" gradientUnits="userSpaceOnUse" x1="452" y1="0" x2="700" y2="0"><stop offset="0" stop-color="#c00000"/><stop offset=".2" stop-color="#d00000"/><stop offset=".4" stop-color="#f00000"/><stop offset=".5" stop-color="#ff0000"/><stop offset="1" stop-color="#ff0000"/></linearGradient>
<polygon points="452.6,405.1 453.1,405.1 453.7,405.1 454.4,405.1 455.4,405.0 456.8,404.9 458.7,404.6 461.2,404.2 464.2,403.6 467.6,402.9 471.2,402.1 474.8,401.4 478.2,400.8 481.5,400.2 484.7,399.6 487.9,399.1 491.2,398.5 494.4,398.0 497.7,397.5 500.9,397.0 504.2,396.5 507.5,395.9 510.8,395.4 514.1,394.9 517.4,394.4 520.6,393.9 523.9,393.3 527.1,392.8 530.3,392.3 533.6,391.7 536.8,391.1 540.0,390.5 543.2,390.0 546.5,389.4 549.8,388.7 553.3,387.9 556.9,386.9 560.8,385.7 564.8,384.4 568.9,383.0 572.9,381.5 576.9,380.0 580.6,378.6 584.0,377.3 587.4,376.1 590.6,374.9 593.9,373.6 597.1,372.3 600.4,370.9 603.7,369.5 607.0,368.1 610.2,366.6 613.5,365.0 616.9,363.4 620.2,361.7 623.6,359.8 627.2,357.8 630.8,355.7 634.2,353.6 637.4,351.7 640.2,349.9 642.4,348.3 644.3,346.9 645.8,345.6 647.2,344.4 648.5,343.2 650.0,341.9 651.7,340.3 653.6,338.6 655.4,336.8 657.2,335.1 658.8,333.5 660.1,332.1 661.0,331.3 661.5,330.8 662.1,330.2 662.8,329.3 663.5,328.3 664.6,326.7 666.0,324.4 667.8,321.6 669.8,318.4 671.9,314.9 673.9,311.5 675.9,308.2 677.8,305.1 679.8,301.8 681.8,298.5 683.8,295.2 685.6,291.9 687.4,288.7 689.0,285.5 690.5,282.3 691.9,279.2 693.2,276.3 694.4,273.5 695.5,271.0 696.5,268.8 697.5,266.6 698.4,264.7 699.1,263.0 699.8,261.6 700.2,260.5 695.6,258.3 695.0,259.3 694.3,260.7 693.5,262.3 692.5,264.2 691.4,266.3 690.3,268.6 689.1,271.0 687.7,273.7 686.3,276.6 684.8,279.6 683.3,282.6 681.6,285.5 679.8,288.5 677.9,291.6 675.8,294.7 673.7,297.9 671.6,301.1 669.5,304.2 667.4,307.3 665.2,310.7 662.9,313.9 660.8,317.0 659.0,319.7 657.4,321.9 656.4,323.3 655.9,324.0 655.7,324.2 655.5,324.4 654.9,324.9 653.9,325.9 652.6,327.2 651.0,328.7 649.3,330.4 647.5,332.0 645.7,333.7 644.0,335.1 642.5,336.4 641.2,337.6 640.0,338.6 638.7,339.6 637.1,340.8 635.0,342.1 632.4,343.8 629.4,345.7 626.0,347.7 622.6,349.7 619.1,351.7 615.8,353.5 612.7,355.2 609.5,356.8 606.4,358.3 603.2,359.8 600.0,361.3 596.8,362.7 593.7,364.0 590.6,365.3 587.4,366.5 584.2,367.7 580.9,368.9 577.4,370.2 573.7,371.6 569.8,373.0 565.8,374.5 561.9,375.9 558.0,377.2 554.5,378.3 551.1,379.2 547.9,380.0 544.7,380.6 541.6,381.2 538.4,381.8 535.2,382.5 532.0,383.1 528.8,383.7 525.6,384.3 522.4,384.9 519.2,385.4 516.0,386.0 512.7,386.6 509.5,387.1 506.2,387.7 502.9,388.3 499.6,388.8 496.3,389.3 493.1,389.8 489.9,390.3 486.6,390.8 483.4,391.3 480.2,391.7 477.0,392.0 473.6,392.3 470.0,392.5 466.3,392.7 462.9,392.9 459.8,393.0 457.3,393.2 455.4,393.4 454.1,393.6 453.1,393.7 452.4,393.9 451.9,394.0 451.4,394.1" fill="#a80000" filter="url(#bl1)"/>
<polygon points="452.4,404.4 452.9,404.4 453.4,404.4 454.2,404.4 455.2,404.3 456.7,404.2 458.5,403.9 461.0,403.5 464.1,402.9 467.5,402.3 471.1,401.6 474.7,400.9 478.1,400.2 481.3,399.7 484.5,399.1 487.8,398.6 491.0,398.1 494.2,397.5 497.5,397.0 500.7,396.5 504.0,396.0 507.3,395.5 510.6,394.9 513.9,394.4 517.2,393.9 520.4,393.4 523.7,392.9 526.9,392.3 530.1,391.8 533.3,391.2 536.6,390.6 539.8,390.0 543.0,389.5 546.2,388.9 549.5,388.2 553.0,387.4 556.6,386.4 560.4,385.3 564.4,383.9 568.5,382.5 572.5,381.0 576.4,379.5 580.1,378.2 583.6,376.9 586.9,375.6 590.2,374.4 593.4,373.2 596.6,371.9 599.9,370.5 603.2,369.1 606.4,367.6 609.7,366.2 613.0,364.6 616.3,363.0 619.6,361.3 623.0,359.4 626.6,357.4 630.1,355.3 633.6,353.3 636.7,351.3 639.4,349.5 641.7,348.0 643.5,346.6 645.0,345.4 646.4,344.2 647.7,343.0 649.2,341.6 650.9,340.1 652.7,338.4 654.6,336.6 656.3,334.9 657.9,333.3 659.2,332.0 660.1,331.1 660.7,330.6 661.2,330.0 661.8,329.3 662.5,328.3 663.6,326.7 665.0,324.4 666.8,321.6 668.8,318.4 670.9,315.0 673.0,311.5 675.0,308.3 677.0,305.1 679.0,301.8 681.0,298.5 682.9,295.2 684.8,292.0 686.6,288.8 688.2,285.6 689.7,282.4 691.1,279.3 692.5,276.4 693.7,273.6 694.8,271.2 695.8,268.9 696.8,266.7 697.7,264.8 698.5,263.1 699.1,261.7 699.6,260.6 696.2,259.0 695.7,260.1 695.0,261.4 694.2,263.1 693.2,265.0 692.1,267.1 691.0,269.4 689.8,271.8 688.5,274.6 687.1,277.5 685.6,280.5 684.1,283.5 682.4,286.5 680.6,289.5 678.7,292.6 676.6,295.8 674.5,299.0 672.4,302.2 670.4,305.3 668.3,308.6 666.1,311.9 663.9,315.2 661.8,318.3 660.0,321.1 658.4,323.2 657.4,324.7 656.8,325.5 656.6,325.8 656.3,326.0 655.7,326.5 654.8,327.5 653.4,328.8 651.9,330.3 650.1,332.0 648.3,333.7 646.5,335.3 644.8,336.8 643.3,338.1 642.0,339.3 640.8,340.3 639.4,341.4 637.8,342.6 635.8,344.0 633.1,345.6 630.1,347.5 626.7,349.6 623.2,351.6 619.7,353.6 616.4,355.4 613.2,357.1 610.1,358.7 606.9,360.2 603.7,361.7 600.5,363.1 597.3,364.5 594.2,365.9 591.0,367.1 587.9,368.4 584.7,369.6 581.4,370.8 577.9,372.1 574.2,373.5 570.2,374.9 566.3,376.4 562.3,377.8 558.4,379.1 554.8,380.2 551.4,381.1 548.2,381.9 545.0,382.6 541.8,383.2 538.6,383.8 535.4,384.4 532.2,385.0 529.0,385.6 525.8,386.2 522.6,386.7 519.4,387.3 516.2,387.9 512.9,388.4 509.7,389.0 506.4,389.5 503.1,390.1 499.8,390.6 496.5,391.1 493.3,391.6 490.0,392.1 486.8,392.6 483.6,393.1 480.4,393.6 477.1,394.0 473.7,394.3 470.1,394.7 466.5,395.0 463.0,395.2 459.9,395.5 457.5,395.7 455.6,395.9 454.3,396.1 453.4,396.2 452.7,396.4 452.1,396.5 451.6,396.5" fill="url(#gm)" filter="url(#bl0)"/>
<polygon points="698.8,260.7 700.1,247.5 702.2,230.1 703.0,211.6 703.6,196.0 702.0,196.0 701.0,211.4 699.8,229.9 697.5,247.1 695.8,260.3" fill="#ff0000" filter="url(#bl0)"/>
<polygon points="703.4,200.0 703.6,186.0 703.6,172.0 702.6,172.0 702.4,186.0 702.0,200.0" fill="#a00000" filter="url(#bl0)"/>
<polygon points="701.0,262.3 703.2,256.3 705.8,242.2 707.5,230.2 710.2,211.6 711.0,192.0 709.6,192.0 708.2,211.4 705.3,229.8 703.4,241.8 700.8,255.7 699.0,261.7" fill="#900000" filter="url(#bl0)"/>
<polygon points="710.7,192.0 711.7,170.0 712.7,150.0 713.2,128.0 712.0,128.0 711.3,150.0 710.3,170.0 709.3,192.0" fill="#380000" filter="url(#bl0)"/>
<g stroke="#000" stroke-width="1.1"><line x1="453.0" y1="84" x2="453.0" y2="410" stroke-opacity="0.16"/><line x1="455.3" y1="84" x2="455.3" y2="410" stroke-opacity="0.17"/><line x1="458.2" y1="84" x2="458.2" y2="410" stroke-opacity="0.13"/><line x1="461.1" y1="84" x2="461.1" y2="410" stroke-opacity="0.16"/><line x1="465.5" y1="84" x2="465.5" y2="410" stroke-opacity="0.37"/><line x1="468.7" y1="84" x2="468.7" y2="410" stroke-opacity="0.15"/><line x1="473.1" y1="84" x2="473.1" y2="410" stroke-opacity="0.17"/><line x1="475.7" y1="84" x2="475.7" y2="410" stroke-opacity="0.08"/><line x1="478.4" y1="84" x2="478.4" y2="410" stroke-opacity="0.22"/><line x1="481.5" y1="84" x2="481.5" y2="410" stroke-opacity="0.14"/><line x1="484.6" y1="84" x2="484.6" y2="410" stroke-opacity="0.08"/><line x1="486.9" y1="84" x2="486.9" y2="410" stroke-opacity="0.11"/><line x1="489.7" y1="84" x2="489.7" y2="410" stroke-opacity="0.75"/><line x1="491.4" y1="84" x2="491.4" y2="410" stroke-opacity="0.75"/><line x1="493.6" y1="84" x2="493.6" y2="410" stroke-opacity="0.75"/><line x1="496.8" y1="84" x2="496.8" y2="410" stroke-opacity="0.31"/><line x1="500.3" y1="84" x2="500.3" y2="410" stroke-opacity="0.29"/><line x1="504.4" y1="84" x2="504.4" y2="410" stroke-opacity="0.20"/><line x1="507.0" y1="84" x2="507.0" y2="410" stroke-opacity="0.38"/><line x1="509.0" y1="84" x2="509.0" y2="410" stroke-opacity="0.30"/><line x1="512.5" y1="84" x2="512.5" y2="410" stroke-opacity="0.09"/><line x1="516.5" y1="84" x2="516.5" y2="410" stroke-opacity="0.35"/><line x1="519.9" y1="84" x2="519.9" y2="410" stroke-opacity="0.30"/><line x1="523.9" y1="84" x2="523.9" y2="410" stroke-opacity="0.12"/><line x1="527.0" y1="84" x2="527.0" y2="410" stroke-opacity="0.23"/><line x1="531.0" y1="84" x2="531.0" y2="410" stroke-opacity="0.32"/><line x1="535.0" y1="84" x2="535.0" y2="410" stroke-opacity="0.26"/><line x1="539.2" y1="84" x2="539.2" y2="410" stroke-opacity="0.28"/><line x1="542.8" y1="84" x2="542.8" y2="410" stroke-opacity="0.15"/><line x1="544.5" y1="84" x2="544.5" y2="410" stroke-opacity="0.12"/><line x1="547.1" y1="84" x2="547.1" y2="410" stroke-opacity="0.11"/><line x1="551.2" y1="84" x2="551.2" y2="410" stroke-opacity="0.25"/><line x1="554.6" y1="84" x2="554.6" y2="410" stroke-opacity="0.27"/><line x1="558.2" y1="84" x2="558.2" y2="410" stroke-opacity="0.23"/><line x1="559.8" y1="84" x2="559.8" y2="410" stroke-opacity="0.32"/><line x1="563.5" y1="84" x2="563.5" y2="410" stroke-opacity="0.23"/><line x1="566.7" y1="84" x2="566.7" y2="410" stroke-opacity="0.28"/><line x1="568.5" y1="84" x2="568.5" y2="410" stroke-opacity="0.30"/><line x1="570.8" y1="84" x2="570.8" y2="410" stroke-opacity="0.10"/><line x1="573.2" y1="84" x2="573.2" y2="410" stroke-opacity="0.30"/><line x1="575.4" y1="84" x2="575.4" y2="410" stroke-opacity="0.30"/><line x1="579.8" y1="84" x2="579.8" y2="410" stroke-opacity="0.23"/><line x1="582.5" y1="84" x2="582.5" y2="410" stroke-opacity="0.22"/><line x1="586.1" y1="84" x2="586.1" y2="410" stroke-opacity="0.31"/><line x1="589.5" y1="84" x2="589.5" y2="410" stroke-opacity="0.27"/><line x1="591.3" y1="84" x2="591.3" y2="410" stroke-opacity="0.12"/><line x1="593.6" y1="84" x2="593.6" y2="410" stroke-opacity="0.30"/><line x1="596.1" y1="84" x2="596.1" y2="410" stroke-opacity="0.25"/><line x1="597.8" y1="84" x2="597.8" y2="410" stroke-opacity="0.10"/><line x1="600.1" y1="84" x2="600.1" y2="410" stroke-opacity="0.28"/><line x1="603.8" y1="84" x2="603.8" y2="410" stroke-opacity="0.28"/><line x1="606.2" y1="84" x2="606.2" y2="410" stroke-opacity="0.23"/><line x1="609.1" y1="84" x2="609.1" y2="410" stroke-opacity="0.22"/><line x1="611.1" y1="84" x2="611.1" y2="410" stroke-opacity="0.35"/><line x1="613.3" y1="84" x2="613.3" y2="410" stroke-opacity="0.37"/><line x1="617.6" y1="84" x2="617.6" y2="410" stroke-opacity="0.09"/><line x1="620.5" y1="84" x2="620.5" y2="410" stroke-opacity="0.33"/><line x1="624.9" y1="84" x2="624.9" y2="410" stroke-opacity="0.21"/><line x1="627.3" y1="84" x2="627.3" y2="410" stroke-opacity="0.14"/><line x1="631.6" y1="84" x2="631.6" y2="410" stroke-opacity="0.14"/><line x1="634.9" y1="84" x2="634.9" y2="410" stroke-opacity="0.12"/><line x1="638.0" y1="84" x2="638.0" y2="410" stroke-opacity="0.37"/><line x1="640.0" y1="84" x2="640.0" y2="410" stroke-opacity="0.33"/><line x1="643.1" y1="84" x2="643.1" y2="410" stroke-opacity="0.35"/><line x1="646.7" y1="84" x2="646.7" y2="410" stroke-opacity="0.15"/><line x1="650.9" y1="84" x2="650.9" y2="410" stroke-opacity="0.23"/><line x1="652.6" y1="84" x2="652.6" y2="410" stroke-opacity="0.08"/><line x1="655.6" y1="84" x2="655.6" y2="410" stroke-opacity="0.22"/><line x1="658.1" y1="84" x2="658.1" y2="410" stroke-opacity="0.12"/></g>
<polygon points="399.9,450.6 407.0,444.6 413.1,437.6 419.0,427.3 416.0,424.7 406.9,432.4 401.0,439.4 396.1,447.4" fill="#7c0000" filter="url(#bl2)"/>
<polygon points="423.6,434.6 429.8,424.9 435.1,412.9 438.2,402.5 435.8,401.5 430.9,411.1 426.2,423.1 421.4,433.4" fill="#c80000" filter="url(#bl1)"/>
<polygon points="429.4,434.6 434.4,425.7 438.1,416.5 435.9,415.5 431.6,424.3 427.2,433.4" fill="#c00000" filter="url(#bl1)"/>
<rect x="298" y="510" width="62" height="9" fill="#2c0000" filter="url(#bl4)"/>
<linearGradient id="ge" gradientUnits="userSpaceOnUse" x1="450" y1="0" x2="790" y2="0"><stop offset="0" stop-color="#200000"/><stop offset=".5" stop-color="#1c0000"/><stop offset="1" stop-color="#080000"/></linearGradient>
<rect x="452" y="511" width="336" height="9" fill="url(#ge)" filter="url(#bl4)"/>
<g stroke="#800000" stroke-width="2" opacity=".48" filter="url(#bl0)"><line x1="296.0" y1="522" x2="296.0" y2="512.5" stroke-opacity="0.18"/><line x1="298.3" y1="522" x2="298.3" y2="516.0" stroke-opacity="0.26"/><line x1="300.6" y1="522" x2="300.6" y2="506.8" stroke-opacity="0.15"/><line x1="302.9" y1="522" x2="302.9" y2="505.8" stroke-opacity="0.43"/><line x1="305.2" y1="522" x2="305.2" y2="506.1" stroke-opacity="0.28"/><line x1="307.5" y1="522" x2="307.5" y2="511.9" stroke-opacity="0.33"/><line x1="309.8" y1="522" x2="309.8" y2="505.0" stroke-opacity="0.42"/><line x1="312.1" y1="522" x2="312.1" y2="512.0" stroke-opacity="0.34"/><line x1="314.4" y1="522" x2="314.4" y2="513.0" stroke-opacity="0.17"/><line x1="316.7" y1="522" x2="316.7" y2="514.9" stroke-opacity="0.53"/><line x1="319.0" y1="522" x2="319.0" y2="512.9" stroke-opacity="0.57"/><line x1="321.3" y1="522" x2="321.3" y2="513.3" stroke-opacity="0.27"/><line x1="323.6" y1="522" x2="323.6" y2="510.4" stroke-opacity="0.24"/><line x1="325.9" y1="522" x2="325.9" y2="511.9" stroke-opacity="0.58"/><line x1="328.2" y1="522" x2="328.2" y2="506.3" stroke-opacity="0.52"/><line x1="330.5" y1="522" x2="330.5" y2="509.1" stroke-opacity="0.56"/><line x1="332.8" y1="522" x2="332.8" y2="505.7" stroke-opacity="0.40"/><line x1="335.1" y1="522" x2="335.1" y2="508.1" stroke-opacity="0.17"/><line x1="337.4" y1="522" x2="337.4" y2="507.9" stroke-opacity="0.35"/><line x1="339.7" y1="522" x2="339.7" y2="507.7" stroke-opacity="0.44"/><line x1="342.0" y1="522" x2="342.0" y2="512.9" stroke-opacity="0.17"/><line x1="344.3" y1="522" x2="344.3" y2="505.8" stroke-opacity="0.21"/><line x1="346.6" y1="522" x2="346.6" y2="510.8" stroke-opacity="0.30"/><line x1="348.9" y1="522" x2="348.9" y2="512.7" stroke-opacity="0.48"/><line x1="351.2" y1="522" x2="351.2" y2="505.3" stroke-opacity="0.27"/><line x1="353.5" y1="522" x2="353.5" y2="508.8" stroke-opacity="0.29"/><line x1="355.8" y1="522" x2="355.8" y2="509.9" stroke-opacity="0.33"/><line x1="358.1" y1="522" x2="358.1" y2="514.2" stroke-opacity="0.22"/><line x1="360.4" y1="522" x2="360.4" y2="513.7" stroke-opacity="0.42"/><line x1="362.7" y1="522" x2="362.7" y2="510.5" stroke-opacity="0.13"/><line x1="452.0" y1="523" x2="452.0" y2="502.7" stroke-opacity="0.62"/><line x1="454.3" y1="523" x2="454.3" y2="516.5" stroke-opacity="0.03"/><line x1="456.6" y1="523" x2="456.6" y2="512.8" stroke-opacity="0.02"/><line x1="458.9" y1="523" x2="458.9" y2="514.3" stroke-opacity="0.37"/><line x1="461.2" y1="523" x2="461.2" y2="505.5" stroke-opacity="0.29"/><line x1="463.5" y1="523" x2="463.5" y2="509.6" stroke-opacity="0.26"/><line x1="465.8" y1="523" x2="465.8" y2="517.9" stroke-opacity="0.21"/><line x1="468.1" y1="523" x2="468.1" y2="516.7" stroke-opacity="0.34"/><line x1="470.4" y1="523" x2="470.4" y2="503.5" stroke-opacity="0.17"/><line x1="472.7" y1="523" x2="472.7" y2="514.5" stroke-opacity="0.28"/><line x1="475.0" y1="523" x2="475.0" y2="501.8" stroke-opacity="0.53"/><line x1="477.3" y1="523" x2="477.3" y2="518.6" stroke-opacity="0.07"/><line x1="479.6" y1="523" x2="479.6" y2="502.9" stroke-opacity="0.32"/><line x1="481.9" y1="523" x2="481.9" y2="519.0" stroke-opacity="0.27"/><line x1="484.2" y1="523" x2="484.2" y2="504.1" stroke-opacity="0.54"/><line x1="486.5" y1="523" x2="486.5" y2="514.5" stroke-opacity="0.02"/><line x1="488.8" y1="523" x2="488.8" y2="509.6" stroke-opacity="0.44"/><line x1="491.1" y1="523" x2="491.1" y2="506.0" stroke-opacity="0.42"/><line x1="493.4" y1="523" x2="493.4" y2="510.8" stroke-opacity="0.07"/><line x1="495.7" y1="523" x2="495.7" y2="504.9" stroke-opacity="0.18"/><line x1="498.0" y1="523" x2="498.0" y2="507.4" stroke-opacity="0.04"/><line x1="500.3" y1="523" x2="500.3" y2="514.5" stroke-opacity="0.41"/><line x1="502.6" y1="523" x2="502.6" y2="517.0" stroke-opacity="0.09"/><line x1="504.9" y1="523" x2="504.9" y2="508.5" stroke-opacity="0.05"/><line x1="507.2" y1="523" x2="507.2" y2="508.2" stroke-opacity="0.06"/><line x1="509.5" y1="523" x2="509.5" y2="510.7" stroke-opacity="0.60"/><line x1="511.8" y1="523" x2="511.8" y2="503.1" stroke-opacity="0.06"/><line x1="514.1" y1="523" x2="514.1" y2="514.6" stroke-opacity="0.60"/><line x1="516.4" y1="523" x2="516.4" y2="513.5" stroke-opacity="0.06"/><line x1="518.7" y1="523" x2="518.7" y2="506.9" stroke-opacity="0.29"/><line x1="521.0" y1="523" x2="521.0" y2="507.0" stroke-opacity="0.12"/><line x1="523.3" y1="523" x2="523.3" y2="518.4" stroke-opacity="0.24"/><line x1="525.6" y1="523" x2="525.6" y2="506.7" stroke-opacity="0.16"/><line x1="527.9" y1="523" x2="527.9" y2="505.7" stroke-opacity="0.07"/><line x1="530.2" y1="523" x2="530.2" y2="501.5" stroke-opacity="0.23"/><line x1="532.5" y1="523" x2="532.5" y2="514.8" stroke-opacity="0.18"/><line x1="534.8" y1="523" x2="534.8" y2="513.7" stroke-opacity="0.59"/><line x1="537.1" y1="523" x2="537.1" y2="515.6" stroke-opacity="0.18"/><line x1="539.4" y1="523" x2="539.4" y2="507.0" stroke-opacity="0.12"/><line x1="541.7" y1="523" x2="541.7" y2="511.9" stroke-opacity="0.17"/><line x1="544.0" y1="523" x2="544.0" y2="516.4" stroke-opacity="0.02"/><line x1="546.3" y1="523" x2="546.3" y2="511.9" stroke-opacity="0.56"/><line x1="548.6" y1="523" x2="548.6" y2="505.8" stroke-opacity="0.62"/><line x1="550.9" y1="523" x2="550.9" y2="513.1" stroke-opacity="0.16"/><line x1="553.2" y1="523" x2="553.2" y2="505.6" stroke-opacity="0.07"/><line x1="555.5" y1="523" x2="555.5" y2="512.2" stroke-opacity="0.26"/><line x1="557.8" y1="523" x2="557.8" y2="516.0" stroke-opacity="0.05"/><line x1="560.1" y1="523" x2="560.1" y2="512.7" stroke-opacity="0.12"/><line x1="562.4" y1="523" x2="562.4" y2="501.6" stroke-opacity="0.17"/><line x1="564.7" y1="523" x2="564.7" y2="504.2" stroke-opacity="0.52"/><line x1="567.0" y1="523" x2="567.0" y2="518.1" stroke-opacity="0.32"/><line x1="569.3" y1="523" x2="569.3" y2="502.4" stroke-opacity="0.16"/><line x1="571.6" y1="523" x2="571.6" y2="502.9" stroke-opacity="0.07"/><line x1="573.9" y1="523" x2="573.9" y2="504.4" stroke-opacity="0.10"/><line x1="576.2" y1="523" x2="576.2" y2="518.4" stroke-opacity="0.09"/><line x1="578.5" y1="523" x2="578.5" y2="514.4" stroke-opacity="0.48"/><line x1="580.8" y1="523" x2="580.8" y2="512.9" stroke-opacity="0.21"/><line x1="583.1" y1="523" x2="583.1" y2="507.9" stroke-opacity="0.20"/><line x1="585.4" y1="523" x2="585.4" y2="513.3" stroke-opacity="0.04"/><line x1="587.7" y1="523" x2="587.7" y2="505.4" stroke-opacity="0.57"/><line x1="590.0" y1="523" x2="590.0" y2="502.0" stroke-opacity="0.01"/><line x1="592.3" y1="523" x2="592.3" y2="510.4" stroke-opacity="0.60"/><line x1="594.6" y1="523" x2="594.6" y2="512.0" stroke-opacity="0.19"/><line x1="596.9" y1="523" x2="596.9" y2="510.1" stroke-opacity="0.12"/><line x1="599.2" y1="523" x2="599.2" y2="504.6" stroke-opacity="0.47"/><line x1="601.5" y1="523" x2="601.5" y2="505.1" stroke-opacity="0.40"/><line x1="603.8" y1="523" x2="603.8" y2="513.2" stroke-opacity="0.26"/><line x1="606.1" y1="523" x2="606.1" y2="517.6" stroke-opacity="0.16"/><line x1="608.4" y1="523" x2="608.4" y2="514.5" stroke-opacity="0.02"/><line x1="610.7" y1="523" x2="610.7" y2="509.1" stroke-opacity="0.24"/><line x1="613.0" y1="523" x2="613.0" y2="503.1" stroke-opacity="0.61"/><line x1="615.3" y1="523" x2="615.3" y2="517.5" stroke-opacity="0.10"/><line x1="617.6" y1="523" x2="617.6" y2="506.2" stroke-opacity="0.06"/><line x1="619.9" y1="523" x2="619.9" y2="511.5" stroke-opacity="0.40"/><line x1="622.2" y1="523" x2="622.2" y2="505.5" stroke-opacity="0.53"/><line x1="624.5" y1="523" x2="624.5" y2="516.8" stroke-opacity="0.52"/><line x1="626.8" y1="523" x2="626.8" y2="508.8" stroke-opacity="0.25"/><line x1="629.1" y1="523" x2="629.1" y2="515.4" stroke-opacity="0.04"/><line x1="631.4" y1="523" x2="631.4" y2="516.2" stroke-opacity="0.53"/><line x1="633.7" y1="523" x2="633.7" y2="513.1" stroke-opacity="0.26"/><line x1="636.0" y1="523" x2="636.0" y2="509.9" stroke-opacity="0.17"/><line x1="638.3" y1="523" x2="638.3" y2="507.2" stroke-opacity="0.11"/><line x1="640.6" y1="523" x2="640.6" y2="510.5" stroke-opacity="0.47"/><line x1="642.9" y1="523" x2="642.9" y2="502.5" stroke-opacity="0.07"/><line x1="645.2" y1="523" x2="645.2" y2="516.9" stroke-opacity="0.14"/><line x1="647.5" y1="523" x2="647.5" y2="508.5" stroke-opacity="0.51"/><line x1="649.8" y1="523" x2="649.8" y2="503.4" stroke-opacity="0.27"/><line x1="652.1" y1="523" x2="652.1" y2="505.0" stroke-opacity="0.10"/><line x1="654.4" y1="523" x2="654.4" y2="508.3" stroke-opacity="0.07"/><line x1="656.7" y1="523" x2="656.7" y2="512.4" stroke-opacity="0.02"/><line x1="659.0" y1="523" x2="659.0" y2="514.4" stroke-opacity="0.33"/><line x1="661.3" y1="523" x2="661.3" y2="515.3" stroke-opacity="0.05"/><line x1="663.6" y1="523" x2="663.6" y2="506.8" stroke-opacity="0.13"/><line x1="665.9" y1="523" x2="665.9" y2="515.3" stroke-opacity="0.40"/><line x1="668.2" y1="523" x2="668.2" y2="517.9" stroke-opacity="0.09"/><line x1="670.5" y1="523" x2="670.5" y2="509.1" stroke-opacity="0.06"/><line x1="672.8" y1="523" x2="672.8" y2="516.1" stroke-opacity="0.34"/><line x1="675.1" y1="523" x2="675.1" y2="513.9" stroke-opacity="0.17"/><line x1="677.4" y1="523" x2="677.4" y2="513.4" stroke-opacity="0.28"/><line x1="679.7" y1="523" x2="679.7" y2="511.5" stroke-opacity="0.40"/><line x1="682.0" y1="523" x2="682.0" y2="512.5" stroke-opacity="0.12"/><line x1="684.3" y1="523" x2="684.3" y2="515.3" stroke-opacity="0.04"/><line x1="686.6" y1="523" x2="686.6" y2="511.4" stroke-opacity="0.37"/><line x1="688.9" y1="523" x2="688.9" y2="503.1" stroke-opacity="0.04"/><line x1="691.2" y1="523" x2="691.2" y2="518.7" stroke-opacity="0.25"/><line x1="693.5" y1="523" x2="693.5" y2="502.6" stroke-opacity="0.07"/><line x1="695.8" y1="523" x2="695.8" y2="512.3" stroke-opacity="0.05"/><line x1="698.1" y1="523" x2="698.1" y2="513.9" stroke-opacity="0.23"/><line x1="700.4" y1="523" x2="700.4" y2="517.0" stroke-opacity="0.21"/><line x1="702.7" y1="523" x2="702.7" y2="501.6" stroke-opacity="0.02"/><line x1="705.0" y1="523" x2="705.0" y2="502.0" stroke-opacity="0.38"/><line x1="707.3" y1="523" x2="707.3" y2="518.0" stroke-opacity="0.36"/><line x1="709.6" y1="523" x2="709.6" y2="502.7" stroke-opacity="0.25"/><line x1="711.9" y1="523" x2="711.9" y2="516.1" stroke-opacity="0.06"/><line x1="714.2" y1="523" x2="714.2" y2="511.7" stroke-opacity="0.31"/><line x1="716.5" y1="523" x2="716.5" y2="515.7" stroke-opacity="0.10"/><line x1="718.8" y1="523" x2="718.8" y2="509.7" stroke-opacity="0.03"/><line x1="721.1" y1="523" x2="721.1" y2="514.6" stroke-opacity="0.26"/><line x1="723.4" y1="523" x2="723.4" y2="518.3" stroke-opacity="0.20"/><line x1="725.7" y1="523" x2="725.7" y2="518.3" stroke-opacity="0.06"/><line x1="728.0" y1="523" x2="728.0" y2="508.2" stroke-opacity="0.19"/><line x1="730.3" y1="523" x2="730.3" y2="513.5" stroke-opacity="0.15"/><line x1="732.6" y1="523" x2="732.6" y2="511.3" stroke-opacity="0.22"/><line x1="734.9" y1="523" x2="734.9" y2="511.1" stroke-opacity="0.03"/><line x1="737.2" y1="523" x2="737.2" y2="510.2" stroke-opacity="0.09"/><line x1="739.5" y1="523" x2="739.5" y2="505.0" stroke-opacity="0.03"/><line x1="741.8" y1="523" x2="741.8" y2="510.5" stroke-opacity="0.01"/><line x1="744.1" y1="523" x2="744.1" y2="511.2" stroke-opacity="0.05"/><line x1="746.4" y1="523" x2="746.4" y2="509.8" stroke-opacity="0.03"/><line x1="748.7" y1="523" x2="748.7" y2="517.5" stroke-opacity="0.21"/><line x1="751.0" y1="523" x2="751.0" y2="509.8" stroke-opacity="0.03"/><line x1="753.3" y1="523" x2="753.3" y2="512.2" stroke-opacity="0.05"/><line x1="755.6" y1="523" x2="755.6" y2="503.6" stroke-opacity="0.25"/><line x1="757.9" y1="523" x2="757.9" y2="504.3" stroke-opacity="0.06"/><line x1="760.2" y1="523" x2="760.2" y2="510.1" stroke-opacity="0.23"/><line x1="762.5" y1="523" x2="762.5" y2="516.0" stroke-opacity="0.19"/><line x1="764.8" y1="523" x2="764.8" y2="517.8" stroke-opacity="0.09"/><line x1="767.1" y1="523" x2="767.1" y2="516.1" stroke-opacity="0.20"/><line x1="769.4" y1="523" x2="769.4" y2="504.3" stroke-opacity="0.05"/><line x1="771.7" y1="523" x2="771.7" y2="502.4" stroke-opacity="0.06"/><line x1="774.0" y1="523" x2="774.0" y2="509.9" stroke-opacity="0.02"/><line x1="776.3" y1="523" x2="776.3" y2="515.7" stroke-opacity="0.05"/><line x1="778.6" y1="523" x2="778.6" y2="506.8" stroke-opacity="0.03"/><line x1="780.9" y1="523" x2="780.9" y2="504.9" stroke-opacity="0.03"/><line x1="783.2" y1="523" x2="783.2" y2="507.5" stroke-opacity="0.07"/><line x1="785.5" y1="523" x2="785.5" y2="509.0" stroke-opacity="0.11"/><line x1="787.8" y1="523" x2="787.8" y2="517.1" stroke-opacity="0.17"/></g>
<rect x="452.2" y="400.8" width="3.6" height="4.7" fill="#1cc41c"/>
<rect x="497" y="393" width="5" height="5.3" fill="#1cc41c"/>
<rect x="502" y="393" width="3.5" height="4" fill="#1cc41c"/>
<rect x="505.5" y="391.5" width="3.5" height="5" fill="#1cc41c"/>
<rect x="513.5" y="391" width="2" height="5" fill="#1cc41c"/>
<rect x="517.6" y="391.5" width="5" height="4" fill="#1cc41c"/>
<rect x="522.5" y="391" width="5" height="3.4" fill="#1cc41c"/>
<rect x="533" y="389" width="6" height="2" fill="#1cc41c"/>
<rect x="540.5" y="387" width="2" height="2.5" fill="#1cc41c"/>
<rect x="547" y="383.7" width="3" height="4.8" fill="#1cc41c"/>
<rect x="551.8" y="384" width="3" height="2.6" fill="#1cc41c"/>
<rect x="599.5" y="362" width="4.3" height="8" fill="#1cc41c"/>
<rect x="427.4" y="410.5" width="5" height="4" fill="#1cc41c"/>
<rect x="432" y="410" width="4" height="3" fill="#1cc41c"/>
<rect x="404.4" y="436.5" width="3" height="3" fill="#1cc41c"/>
<rect x="406.5" y="434" width="3" height="3" fill="#1cc41c"/>
<rect x="408.5" y="431.5" width="3" height="3" fill="#1cc41c"/>
<rect x="411" y="429.5" width="3" height="2.5" fill="#1cc41c"/>
<rect x="413.5" y="427.5" width="3" height="2.5" fill="#1cc41c"/>
<rect x="415" y="426" width="2" height="2" fill="#1cc41c"/>
<rect x="540.8" y="183.3" width="3.2" height="4.7" fill="#149a14"/>
<rect x="561" y="169" width="3" height="7" fill="#149a14"/>
<rect x="585" y="154" width="2" height="2" fill="#149a14"/>
<rect x="608.4" y="139.2" width="2" height="2" fill="#149a14"/>
<rect x="517.7" y="192.9" width="1.7" height="6" fill="#149a14"/>
<rect x="500.3" y="201" width="4.5" height="2.6" fill="#149a14"/>
<rect x="568" y="519" width="3.5" height="3" fill="#149a14"/>
<rect x="573" y="517" width="3" height="2.5" fill="#149a14"/>
<rect x="575.5" y="520" width="2" height="3" fill="#149a14"/>
<rect x="660.5" y="515" width="2.5" height="6" fill="#149a14"/>
<rect x="453.5" y="523" width="2.5" height="3" fill="#149a14"/>
</g>
<g stroke="#525252" stroke-width="1" shape-rendering="crispEdges">
<line x1="159.5" y1="70" x2="159.5" y2="546"/>
<line x1="286.5" y1="70" x2="286.5" y2="546"/>
<line x1="376.5" y1="70" x2="376.5" y2="546"/>
<line x1="445.5" y1="70" x2="445.5" y2="546"/>
<line x1="550.5" y1="70" x2="550.5" y2="546"/>
<line x1="662.5" y1="70" x2="662.5" y2="546"/>
<line x1="80" y1="126.5" x2="779" y2="126.5"/>
<line x1="80" y1="192.5" x2="779" y2="192.5"/>
<line x1="80" y1="259.5" x2="779" y2="259.5"/>
<line x1="80" y1="324.5" x2="779" y2="324.5"/>
<line x1="80" y1="390.5" x2="779" y2="390.5"/>
<line x1="80" y1="457.5" x2="779" y2="457.5"/>
<line x1="80" y1="523.5" x2="779" y2="523.5"/>
</g>
<g stroke="#000" stroke-width="1" shape-rendering="crispEdges" fill="none">
<rect x="788" y="81" width="1" height="476" fill="#fff" stroke="none"/>
<rect x="68.5" y="60.5" width="721" height="497"/>
<line x1="69.5" y1="60" x2="69.5" y2="558"/>
<line x1="159.5" y1="60" x2="159.5" y2="70"/>
<line x1="159.5" y1="546" x2="159.5" y2="557"/>
<line x1="286.5" y1="60" x2="286.5" y2="70"/>
<line x1="286.5" y1="546" x2="286.5" y2="557"/>
<line x1="376.5" y1="60" x2="376.5" y2="70"/>
<line x1="376.5" y1="546" x2="376.5" y2="557"/>
<line x1="445.5" y1="60" x2="445.5" y2="70"/>
<line x1="445.5" y1="546" x2="445.5" y2="557"/>
<line x1="550.5" y1="60" x2="550.5" y2="70"/>
<line x1="550.5" y1="546" x2="550.5" y2="557"/>
<line x1="662.5" y1="60" x2="662.5" y2="70"/>
<line x1="662.5" y1="546" x2="662.5" y2="557"/>
<line x1="69" y1="556.5" x2="75" y2="556.5"/>
<line x1="783" y1="556.5" x2="789" y2="556.5"/>
<line x1="69" y1="549.5" x2="75" y2="549.5"/>
<line x1="783" y1="549.5" x2="789" y2="549.5"/>
<line x1="69" y1="543.5" x2="75" y2="543.5"/>
<line x1="783" y1="543.5" x2="789" y2="543.5"/>
<line x1="69" y1="536.5" x2="75" y2="536.5"/>
<line x1="783" y1="536.5" x2="789" y2="536.5"/>
<line x1="69" y1="530.5" x2="75" y2="530.5"/>
<line x1="783" y1="530.5" x2="789" y2="530.5"/>
<line x1="69" y1="523.5" x2="80" y2="523.5"/>
<line x1="778" y1="523.5" x2="789" y2="523.5"/>
<line x1="69" y1="516.5" x2="75" y2="516.5"/>
<line x1="783" y1="516.5" x2="789" y2="516.5"/>
<line x1="69" y1="510.5" x2="75" y2="510.5"/>
<line x1="783" y1="510.5" x2="789" y2="510.5"/>
<line x1="69" y1="503.5" x2="75" y2="503.5"/>
<line x1="783" y1="503.5" x2="789" y2="503.5"/>
<line x1="69" y1="497.5" x2="75" y2="497.5"/>
<line x1="783" y1="497.5" x2="789" y2="497.5"/>
<line x1="69" y1="490.5" x2="75" y2="490.5"/>
<line x1="783" y1="490.5" x2="789" y2="490.5"/>
<line x1="69" y1="483.5" x2="75" y2="483.5"/>
<line x1="783" y1="483.5" x2="789" y2="483.5"/>
<line x1="69" y1="477.5" x2="75" y2="477.5"/>
<line x1="783" y1="477.5" x2="789" y2="477.5"/>
<line x1="69" y1="470.5" x2="75" y2="470.5"/>
<line x1="783" y1="470.5" x2="789" y2="470.5"/>
<line x1="69" y1="464.5" x2="75" y2="464.5"/>
<line x1="783" y1="464.5" x2="789" y2="464.5"/>
<line x1="69" y1="457.5" x2="80" y2="457.5"/>
<line x1="778" y1="457.5" x2="789" y2="457.5"/>
<line x1="69" y1="450.5" x2="75" y2="450.5"/>
<line x1="783" y1="450.5" x2="789" y2="450.5"/>
<line x1="69" y1="444.5" x2="75" y2="444.5"/>
<line x1="783" y1="444.5" x2="789" y2="444.5"/>
<line x1="69" y1="437.5" x2="75" y2="437.5"/>
<line x1="783" y1="437.5" x2="789" y2="437.5"/>
<line x1="69" y1="430.5" x2="75" y2="430.5"/>
<line x1="783" y1="430.5" x2="789" y2="430.5"/>
<line x1="69" y1="424.5" x2="75" y2="424.5"/>
<line x1="783" y1="424.5" x2="789" y2="424.5"/>
<line x1="69" y1="417.5" x2="75" y2="417.5"/>
<line x1="783" y1="417.5" x2="789" y2="417.5"/>
<line x1="69" y1="410.5" x2="75" y2="410.5"/>
<line x1="783" y1="410.5" x2="789" y2="410.5"/>
<line x1="69" y1="403.5" x2="75" y2="403.5"/>
<line x1="783" y1="403.5" x2="789" y2="403.5"/>
<line x1="69" y1="397.5" x2="75" y2="397.5"/>
<line x1="783" y1="397.5" x2="789" y2="397.5"/>
<line x1="69" y1="390.5" x2="80" y2="390.5"/>
<line x1="778" y1="390.5" x2="789" y2="390.5"/>
<line x1="69" y1="383.5" x2="75" y2="383.5"/>
<line x1="783" y1="383.5" x2="789" y2="383.5"/>
<line x1="69" y1="377.5" x2="75" y2="377.5"/>
<line x1="783" y1="377.5" x2="789" y2="377.5"/>
<line x1="69" y1="370.5" x2="75" y2="370.5"/>
<line x1="783" y1="370.5" x2="789" y2="370.5"/>
<line x1="69" y1="364.5" x2="75" y2="364.5"/>
<line x1="783" y1="364.5" x2="789" y2="364.5"/>
<line x1="69" y1="357.5" x2="75" y2="357.5"/>
<line x1="783" y1="357.5" x2="789" y2="357.5"/>
<line x1="69" y1="350.5" x2="75" y2="350.5"/>
<line x1="783" y1="350.5" x2="789" y2="350.5"/>
<line x1="69" y1="344.5" x2="75" y2="344.5"/>
<line x1="783" y1="344.5" x2="789" y2="344.5"/>
<line x1="69" y1="337.5" x2="75" y2="337.5"/>
<line x1="783" y1="337.5" x2="789" y2="337.5"/>
<line x1="69" y1="331.5" x2="75" y2="331.5"/>
<line x1="783" y1="331.5" x2="789" y2="331.5"/>
<line x1="69" y1="324.5" x2="80" y2="324.5"/>
<line x1="778" y1="324.5" x2="789" y2="324.5"/>
<line x1="69" y1="318.5" x2="75" y2="318.5"/>
<line x1="783" y1="318.5" x2="789" y2="318.5"/>
<line x1="69" y1="311.5" x2="75" y2="311.5"/>
<line x1="783" y1="311.5" x2="789" y2="311.5"/>
<line x1="69" y1="304.5" x2="75" y2="304.5"/>
<line x1="783" y1="304.5" x2="789" y2="304.5"/>
<line x1="69" y1="298.5" x2="75" y2="298.5"/>
<line x1="783" y1="298.5" x2="789" y2="298.5"/>
<line x1="69" y1="292.5" x2="75" y2="292.5"/>
<line x1="783" y1="292.5" x2="789" y2="292.5"/>
<line x1="69" y1="285.5" x2="75" y2="285.5"/>
<line x1="783" y1="285.5" x2="789" y2="285.5"/>
<line x1="69" y1="278.5" x2="75" y2="278.5"/>
<line x1="783" y1="278.5" x2="789" y2="278.5"/>
<line x1="69" y1="272.5" x2="75" y2="272.5"/>
<line x1="783" y1="272.5" x2="789" y2="272.5"/>
<line x1="69" y1="266.5" x2="75" y2="266.5"/>
<line x1="783" y1="266.5" x2="789" y2="266.5"/>
<line x1="69" y1="259.5" x2="80" y2="259.5"/>
<line x1="778" y1="259.5" x2="789" y2="259.5"/>
<line x1="69" y1="252.5" x2="75" y2="252.5"/>
<line x1="783" y1="252.5" x2="789" y2="252.5"/>
<line x1="69" y1="246.5" x2="75" y2="246.5"/>
<line x1="783" y1="246.5" x2="789" y2="246.5"/>
<line x1="69" y1="239.5" x2="75" y2="239.5"/>
<line x1="783" y1="239.5" x2="789" y2="239.5"/>
<line x1="69" y1="232.5" x2="75" y2="232.5"/>
<line x1="783" y1="232.5" x2="789" y2="232.5"/>
<line x1="69" y1="226.5" x2="75" y2="226.5"/>
<line x1="783" y1="226.5" x2="789" y2="226.5"/>
<line x1="69" y1="219.5" x2="75" y2="219.5"/>
<line x1="783" y1="219.5" x2="789" y2="219.5"/>
<line x1="69" y1="212.5" x2="75" y2="212.5"/>
<line x1="783" y1="212.5" x2="789" y2="212.5"/>
<line x1="69" y1="205.5" x2="75" y2="205.5"/>
<line x1="783" y1="205.5" x2="789" y2="205.5"/>
<line x1="69" y1="199.5" x2="75" y2="199.5"/>
<line x1="783" y1="199.5" x2="789" y2="199.5"/>
<line x1="69" y1="192.5" x2="80" y2="192.5"/>
<line x1="778" y1="192.5" x2="789" y2="192.5"/>
<line x1="69" y1="185.5" x2="75" y2="185.5"/>
<line x1="783" y1="185.5" x2="789" y2="185.5"/>
<line x1="69" y1="179.5" x2="75" y2="179.5"/>
<line x1="783" y1="179.5" x2="789" y2="179.5"/>
<line x1="69" y1="172.5" x2="75" y2="172.5"/>
<line x1="783" y1="172.5" x2="789" y2="172.5"/>
<line x1="69" y1="166.5" x2="75" y2="166.5"/>
<line x1="783" y1="166.5" x2="789" y2="166.5"/>
<line x1="69" y1="159.5" x2="75" y2="159.5"/>
<line x1="783" y1="159.5" x2="789" y2="159.5"/>
<line x1="69" y1="152.5" x2="75" y2="152.5"/>
<line x1="783" y1="152.5" x2="789" y2="152.5"/>
<line x1="69" y1="146.5" x2="75" y2="146.5"/>
<line x1="783" y1="146.5" x2="789" y2="146.5"/>
<line x1="69" y1="139.5" x2="75" y2="139.5"/>
<line x1="783" y1="139.5" x2="789" y2="139.5"/>
<line x1="69" y1="133.5" x2="75" y2="133.5"/>
<line x1="783" y1="133.5" x2="789" y2="133.5"/>
<line x1="69" y1="126.5" x2="80" y2="126.5"/>
<line x1="778" y1="126.5" x2="789" y2="126.5"/>
<line x1="69" y1="119.5" x2="75" y2="119.5"/>
<line x1="783" y1="119.5" x2="789" y2="119.5"/>
<line x1="69" y1="113.5" x2="75" y2="113.5"/>
<line x1="783" y1="113.5" x2="789" y2="113.5"/>
<line x1="69" y1="106.5" x2="75" y2="106.5"/>
<line x1="783" y1="106.5" x2="789" y2="106.5"/>
<line x1="69" y1="100.5" x2="75" y2="100.5"/>
<line x1="783" y1="100.5" x2="789" y2="100.5"/>
<line x1="69" y1="93.5" x2="75" y2="93.5"/>
<line x1="783" y1="93.5" x2="789" y2="93.5"/>
<line x1="69" y1="86.5" x2="75" y2="86.5"/>
<line x1="783" y1="86.5" x2="789" y2="86.5"/>
<line x1="69" y1="80.5" x2="75" y2="80.5"/>
<line x1="783" y1="80.5" x2="789" y2="80.5"/>
<line x1="69" y1="73.5" x2="75" y2="73.5"/>
<line x1="783" y1="73.5" x2="789" y2="73.5"/>
<line x1="69" y1="67.5" x2="75" y2="67.5"/>
<line x1="783" y1="67.5" x2="789" y2="67.5"/>
</g>
<rect x="807.5" y="77.5" width="20" height="460" fill="url(#gO)" stroke="#000" stroke-width="1" shape-rendering="crispEdges"/>
<g stroke="#000" stroke-width="1" shape-rendering="crispEdges">
<line x1="807" y1="480.5" x2="814" y2="480.5"/><line x1="820" y1="480.5" x2="828" y2="480.5"/>
<line x1="807" y1="422.5" x2="814" y2="422.5"/><line x1="820" y1="422.5" x2="828" y2="422.5"/>
<line x1="807" y1="365.5" x2="814" y2="365.5"/><line x1="820" y1="365.5" x2="828" y2="365.5"/>
<line x1="807" y1="308.5" x2="814" y2="308.5"/><line x1="820" y1="308.5" x2="828" y2="308.5"/>
<line x1="807" y1="250.5" x2="814" y2="250.5"/><line x1="820" y1="250.5" x2="828" y2="250.5"/>
<line x1="807" y1="192.5" x2="814" y2="192.5"/><line x1="820" y1="192.5" x2="828" y2="192.5"/>
<line x1="807" y1="135.5" x2="814" y2="135.5"/><line x1="820" y1="135.5" x2="828" y2="135.5"/>
</g>
<rect x="871.5" y="77.5" width="20" height="460" fill="url(#gX)" stroke="#000" stroke-width="1" shape-rendering="crispEdges"/>
<g stroke="#000" stroke-width="1" shape-rendering="crispEdges">
<line x1="871" y1="480.5" x2="878" y2="480.5"/><line x1="884" y1="480.5" x2="892" y2="480.5"/>
<line x1="871" y1="422.5" x2="878" y2="422.5"/><line x1="884" y1="422.5" x2="892" y2="422.5"/>
<line x1="871" y1="365.5" x2="878" y2="365.5"/><line x1="884" y1="365.5" x2="892" y2="365.5"/>
<line x1="871" y1="308.5" x2="878" y2="308.5"/><line x1="884" y1="308.5" x2="892" y2="308.5"/>
<line x1="871" y1="250.5" x2="878" y2="250.5"/><line x1="884" y1="250.5" x2="892" y2="250.5"/>
<line x1="871" y1="192.5" x2="878" y2="192.5"/><line x1="884" y1="192.5" x2="892" y2="192.5"/>
<line x1="871" y1="135.5" x2="878" y2="135.5"/><line x1="884" y1="135.5" x2="892" y2="135.5"/>
</g>
<g class="b">
<text transform="translate(215.4,36) scale(0.972,1)">Pmaldonado 2011 121 14:23:03 UTC</text>
<text transform="translate(555.4,36) scale(0.943,1)">01May11</text>
<text transform="translate(52.3,64.1) scale(0.945,1)" text-anchor="end">800</text>
<text transform="translate(52.3,130.1) scale(0.945,1)" text-anchor="end">700</text>
<text transform="translate(52.3,196.1) scale(0.945,1)" text-anchor="end">600</text>
<text transform="translate(52.3,263.1) scale(0.945,1)" text-anchor="end">500</text>
<text transform="translate(52.3,328.1) scale(0.945,1)" text-anchor="end">400</text>
<text transform="translate(52.3,394.1) scale(0.945,1)" text-anchor="end">300</text>
<text transform="translate(52.3,461.1) scale(0.945,1)" text-anchor="end">200</text>
<text transform="translate(52.3,527.1) scale(0.945,1)" text-anchor="end">100</text>
<text transform="translate(68.6,584.5) scale(0.974,1)" text-anchor="middle">1.5</text>
<text transform="translate(156.9,584.5) scale(0.974,1)" text-anchor="middle">2.0</text>
<text transform="translate(284.7,584.5) scale(0.974,1)" text-anchor="middle">3.0</text>
<text transform="translate(373.2,584.5) scale(0.974,1)" text-anchor="middle">4.0</text>
<text transform="translate(444,584.5) scale(0.974,1)" text-anchor="middle">5.0</text>
<text transform="translate(549.3,584.5) scale(0.974,1)" text-anchor="middle">7.0</text>
<text transform="translate(661.7,584.5) scale(0.974,1)" text-anchor="middle">10.0</text>
<text transform="translate(788.5,584.5) scale(0.974,1)" text-anchor="middle">15.0</text>
<text transform="translate(359.2,612.5) scale(0.964,1)">Frequency [MHz]</text>
</g><g class="b" style="font-size:17.6px">
<text transform="translate(14,308.7) rotate(-90) scale(1.047,1)" text-anchor="middle">Range [km]</text>
</g><g class="b">
</g><g class="b" style="font-size:17.4px">
<text transform="translate(814.5,64) scale(1.04,1)" text-anchor="middle">O</text>
<text transform="translate(885.9,64) scale(1.04,1)" text-anchor="middle">X</text>
</g>
<g class="t">
<text transform="translate(740,10.5) scale(0.99,1)">O&amp;X SNR [dB]</text>
<text transform="translate(840.2,542.0)">0</text>
<text transform="translate(904.4,542.0)">0</text>
<text transform="translate(840.2,484.5)">5</text>
<text transform="translate(904.4,484.5)">5</text>
<text transform="translate(840.2,427.0)">10</text>
<text transform="translate(904.4,427.0)">10</text>
<text transform="translate(840.2,369.5)">15</text>
<text transform="translate(904.4,369.5)">15</text>
<text transform="translate(840.2,312.0)">20</text>
<text transform="translate(904.4,312.0)">20</text>
<text transform="translate(840.2,254.5)">25</text>
<text transform="translate(904.4,254.5)">25</text>
<text transform="translate(840.2,197.0)">30</text>
<text transform="translate(904.4,197.0)">30</text>
<text transform="translate(840.2,139.5)">35</text>
<text transform="translate(904.4,139.5)">35</text>
<text transform="translate(840.2,82.0)">40</text>
<text transform="translate(904.4,82.0)">40</text>
</g>
<g class="s">
<text transform="translate(30,632.5)">RxMask 00001111</text>
<text transform="translate(581.8,632.5) scale(1.025,1)" xml:space="preserve">VIPIR  PM91K_2011121142303.RIQ</text>
</g>
</svg></body></html>
